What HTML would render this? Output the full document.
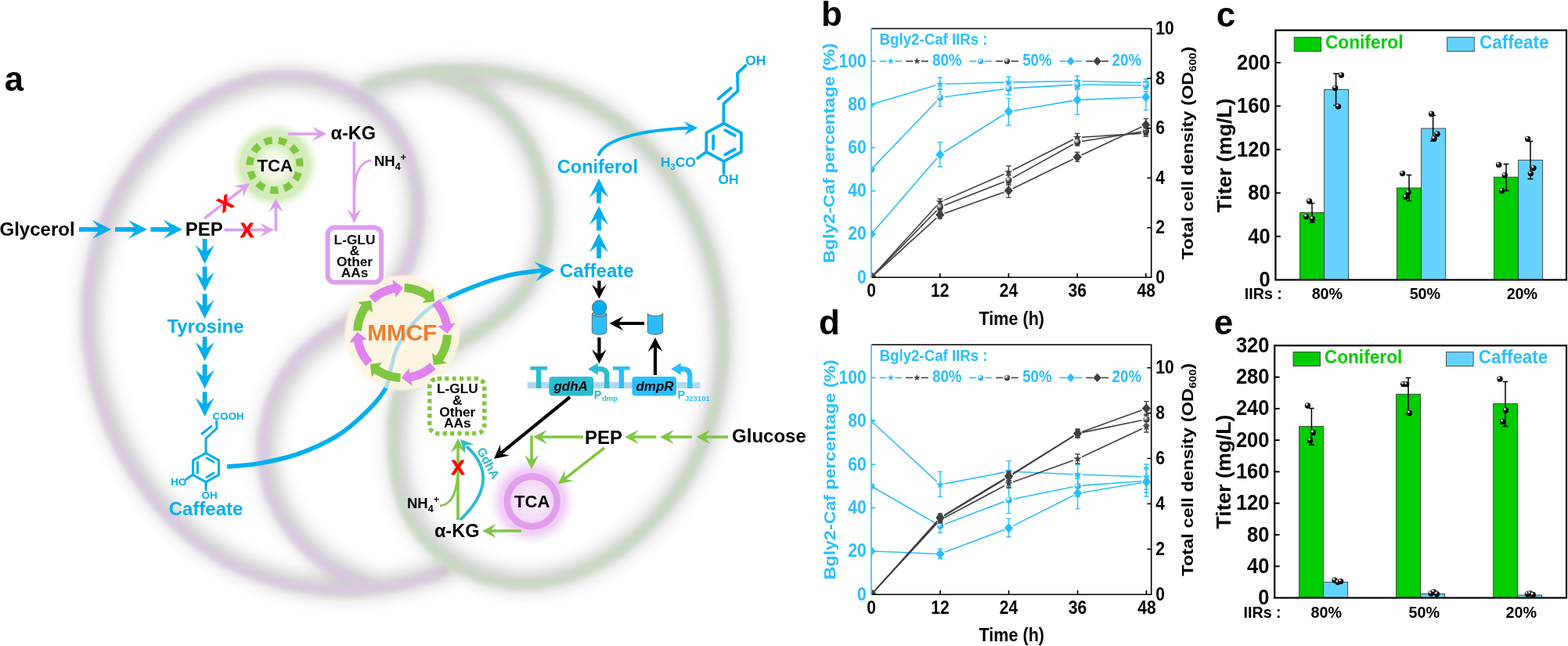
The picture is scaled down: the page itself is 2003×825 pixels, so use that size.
<!DOCTYPE html>
<html><head><meta charset="utf-8"><title>Figure</title>
<style>
html,body{margin:0;padding:0;background:#fff;}
body{width:2003px;height:825px;overflow:hidden;}
svg{display:block;}
text{font-family:'Liberation Sans', sans-serif;font-weight:bold;}
</style></head><body>
<svg width="2003" height="825" viewBox="0 0 2003 825">
<defs>
<filter id="blur6" x="-20%" y="-20%" width="140%" height="140%"><feGaussianBlur stdDeviation="10.5"/></filter>
<filter id="blur2" x="-20%" y="-20%" width="140%" height="140%"><feGaussianBlur stdDeviation="3"/></filter>
<filter id="blur3" x="-30%" y="-30%" width="160%" height="160%"><feGaussianBlur stdDeviation="3"/></filter>
<radialGradient id="mmcfg" cx="50%" cy="50%" r="50%"><stop offset="0" stop-color="#FDF5E1" stop-opacity="0.93"/><stop offset="0.955" stop-color="#FDF5E1" stop-opacity="0.93"/><stop offset="1" stop-color="#FDF5E0" stop-opacity="0"/></radialGradient>
<clipPath id="mmcfclip"><circle cx="514" cy="425" r="73"/></clipPath>
<radialGradient id="tcag" cx="50%" cy="50%" r="50%"><stop offset="0" stop-color="#fff" stop-opacity="1"/><stop offset="0.28" stop-color="#F1F9E8" stop-opacity="1"/><stop offset="0.5" stop-color="#D3EAB8" stop-opacity="1"/><stop offset="0.78" stop-color="#D2EAB8" stop-opacity="0.95"/><stop offset="1" stop-color="#DDF0CB" stop-opacity="0"/></radialGradient>
<radialGradient id="tcap" cx="50%" cy="50%" r="50%"><stop offset="0" stop-color="#FBF2FC" stop-opacity="1"/><stop offset="0.3" stop-color="#F5E2F8" stop-opacity="1"/><stop offset="0.55" stop-color="#F0D3F5" stop-opacity="1"/><stop offset="0.72" stop-color="#EFCDF5" stop-opacity="1"/><stop offset="1" stop-color="#F6E3F9" stop-opacity="0"/></radialGradient>
<radialGradient id="ballk" cx="35%" cy="30%" r="65%"><stop offset="0" stop-color="#ffffff"/><stop offset="0.18" stop-color="#d0d0d0"/><stop offset="0.42" stop-color="#1a1a1a"/><stop offset="1" stop-color="#000"/></radialGradient>
<radialGradient id="balld" cx="35%" cy="30%" r="65%"><stop offset="0" stop-color="#ffffff"/><stop offset="0.3" stop-color="#b0b0b0"/><stop offset="0.7" stop-color="#454545"/><stop offset="1" stop-color="#2a2a2a"/></radialGradient>
<radialGradient id="ballc" cx="35%" cy="30%" r="65%"><stop offset="0" stop-color="#ffffff"/><stop offset="0.3" stop-color="#a8e4ff"/><stop offset="0.7" stop-color="#29BFFF"/><stop offset="1" stop-color="#1aa8e8"/></radialGradient>
<clipPath id="clipL1113_36"><rect x="1113" y="30" width="400" height="330"/></clipPath>
<clipPath id="clipL1113_440"><rect x="1113" y="430" width="400" height="335"/></clipPath>
</defs>
<rect width="2003" height="825" fill="#fff"/>
<g id="rings">
<path d="M568.3,730.0 C566.2,730.4 559.9,731.4 555.7,732.4 C551.6,733.4 547.5,734.8 543.4,736.0 C539.4,737.1 535.3,738.3 531.2,739.4 C527.1,740.5 523.0,741.5 518.9,742.5 C514.8,743.4 510.6,744.3 506.5,745.1 C502.4,745.9 498.3,746.6 494.1,747.3 C490.0,747.9 485.8,748.5 481.7,749.0 C477.5,749.5 473.3,749.9 469.2,750.2 C465.0,750.6 460.8,750.8 456.7,751.0 C452.5,751.2 448.4,751.3 444.2,751.3 C440.0,751.3 435.9,751.3 431.7,751.2 C427.6,751.0 423.5,750.8 419.3,750.5 C415.2,750.2 411.1,749.9 407.0,749.4 C402.9,749.0 398.8,748.5 394.7,747.9 C390.6,747.3 386.6,746.6 382.5,745.8 C378.5,745.1 374.4,744.3 370.4,743.3 C366.4,742.4 362.5,741.4 358.5,740.4 C354.5,739.3 350.6,738.2 346.7,736.9 C342.8,735.7 338.9,734.4 335.1,733.0 C331.2,731.7 327.4,730.2 323.6,728.7 C319.8,727.1 316.1,725.5 312.3,723.8 C308.6,722.1 304.9,720.3 301.3,718.5 C297.6,716.6 294.0,714.7 290.5,712.7 C286.9,710.7 283.4,708.6 279.9,706.5 C276.4,704.3 272.9,702.1 269.5,699.7 C266.1,697.4 262.8,695.1 259.5,692.6 C256.1,690.1 252.9,687.6 249.6,685.0 C246.4,682.4 243.2,679.8 240.1,677.0 C237.0,674.3 233.9,671.5 230.8,668.6 C227.8,665.8 224.8,662.9 221.9,659.9 C218.9,656.9 216.0,653.9 213.2,650.8 C210.4,647.7 207.6,644.5 204.9,641.3 C202.1,638.1 199.4,634.8 196.8,631.5 C194.2,628.2 191.6,624.9 189.1,621.5 C186.6,618.1 184.2,614.6 181.8,611.1 C179.4,607.6 177.0,604.1 174.8,600.5 C172.5,596.9 170.3,593.3 168.1,589.6 C165.9,586.0 163.8,582.3 161.8,578.6 C159.8,574.9 157.8,571.1 155.9,567.3 C154.0,563.5 152.1,559.7 150.4,555.9 C148.6,552.0 146.9,548.2 145.2,544.3 C143.6,540.4 142.0,536.5 140.5,532.5 C138.9,528.6 137.5,524.6 136.1,520.7 C134.7,516.7 133.4,512.7 132.2,508.7 C130.9,504.7 129.8,500.7 128.7,496.7 C127.6,492.7 126.6,488.6 125.6,484.6 C124.6,480.6 123.8,476.5 122.9,472.5 C122.1,468.4 121.4,464.3 120.7,460.3 C120.0,456.2 119.4,452.1 118.9,448.1 C118.4,444.0 117.9,439.9 117.6,435.9 C117.2,431.8 116.9,427.7 116.6,423.6 C116.4,419.5 116.2,415.5 116.2,411.4 C116.1,407.3 116.1,403.2 116.1,399.2 C116.2,395.1 116.3,391.0 116.5,387.0 C116.7,382.9 117.0,378.8 117.4,374.8 C117.8,370.7 118.2,366.7 118.7,362.6 C119.2,358.6 119.8,354.6 120.5,350.6 C121.1,346.5 121.9,342.5 122.7,338.5 C123.5,334.5 124.4,330.5 125.4,326.6 C126.3,322.6 127.4,318.6 128.5,314.7 C129.6,310.7 130.8,306.8 132.1,302.9 C133.4,298.9 134.8,295.0 136.2,291.1 C137.6,287.2 139.2,283.4 140.8,279.5 C142.4,275.7 144.0,271.8 145.8,268.0 C147.5,264.2 149.4,260.4 151.3,256.6 C153.2,252.9 155.2,249.1 157.3,245.4 C159.3,241.7 161.5,238.0 163.7,234.3 C165.9,230.7 168.2,227.0 170.6,223.4 C173.0,219.9 175.4,216.3 177.9,212.8 C180.4,209.3 183.0,205.9 185.6,202.5 C188.3,199.1 191.0,195.7 193.8,192.4 C196.6,189.1 199.4,185.9 202.3,182.7 C205.2,179.6 208.2,176.4 211.2,173.4 C214.2,170.4 217.3,167.4 220.4,164.5 C223.5,161.6 226.7,158.8 229.9,156.0 C233.1,153.3 236.4,150.6 239.7,148.0 C243.1,145.4 246.4,142.9 249.8,140.5 C253.3,138.1 256.7,135.8 260.2,133.5 C263.7,131.3 267.2,129.2 270.8,127.1 C274.4,125.1 278.0,123.2 281.7,121.3 C285.3,119.5 289.0,117.8 292.7,116.2 C296.4,114.5 300.1,113.0 303.9,111.6 C307.7,110.3 311.5,109.0 315.3,107.8 C319.1,106.7 323.0,105.6 326.9,104.7 C330.7,103.8 334.6,103.0 338.5,102.3 C342.4,101.7 346.4,101.1 350.3,100.7 C354.3,100.4 358.3,100.1 362.3,100.0 C366.2,99.9 370.3,99.9 374.3,100.0 C378.3,100.2 382.3,100.5 386.4,101.0 C390.4,101.4 394.4,102.0 398.4,102.8 C402.4,103.5 406.4,104.4 410.4,105.4 C414.4,106.4 418.3,107.6 422.2,108.8 C426.1,110.1 430.0,111.6 433.8,113.1 C437.6,114.7 441.4,116.4 445.1,118.2 C448.8,120.0 452.4,122.0 455.9,124.0 C459.5,126.1 463.0,128.3 466.3,130.6 C469.7,133.0 473.0,135.4 476.1,138.0 C479.3,140.6 482.4,143.2 485.3,146.1 C488.3,148.9 491.1,151.8 493.8,154.8 C496.5,157.9 499.1,161.1 501.5,164.3 C504.0,167.6 506.3,171.0 508.4,174.5 C510.6,178.0 512.6,181.6 514.4,185.3 C516.3,189.0 518.0,192.8 519.6,196.7 C521.2,200.5 522.6,204.5 523.9,208.5 C525.2,212.5 526.4,216.5 527.4,220.6 C528.4,224.7 529.3,228.9 530.1,233.1 C530.8,237.3 531.4,241.5 531.9,245.7 C532.4,249.9 532.7,254.2 532.9,258.4 C533.1,262.6 533.2,266.9 533.2,271.1 C533.1,275.3 532.9,279.5 532.6,283.7 C532.3,287.8 531.8,292.0 531.2,296.1 C530.6,300.2 529.9,304.2 529.0,308.2 C528.1,312.2 527.1,316.1 526.0,320.0 C524.8,323.9 523.5,327.7 522.1,331.4 C520.6,335.1 519.0,338.7 517.2,342.3 C515.5,345.9 513.6,349.3 511.5,352.7 C509.4,356.1 507.2,359.4 504.7,362.5 C502.3,365.7 499.7,368.8 497.0,371.7 C494.2,374.7 491.3,377.5 488.3,380.3 C485.2,383.0 482.0,385.6 478.8,388.2 C475.5,390.7 472.0,393.1 468.6,395.5 C465.1,397.9 461.5,400.1 458.0,402.5 C454.5,404.9 451.0,407.2 447.5,409.8 C444.1,412.4 441.0,415.3 437.6,417.9 C434.2,420.5 430.8,423.0 427.3,425.4 C423.9,427.8 420.3,429.9 416.8,432.2 C413.4,434.5 410.0,436.8 406.7,439.3 C403.5,441.8 400.3,444.4 397.2,447.1 C394.2,449.8 391.3,452.7 388.4,455.6 C385.6,458.6 382.9,461.6 380.3,464.8 C377.7,467.9 375.3,471.2 372.9,474.5 C370.6,477.9 368.3,481.3 366.2,484.8 C364.1,488.3 362.1,491.9 360.3,495.5 C358.4,499.2 356.7,502.9 355.1,506.7 C353.5,510.5 352.0,514.3 350.7,518.2 C349.3,522.1 348.1,526.0 347.0,530.0 C346.0,534.0 345.0,538.0 344.3,542.0 C343.5,546.0 342.8,550.1 342.3,554.1 C341.8,558.2 341.4,562.3 341.2,566.4 C341.0,570.4 340.9,574.5 341.0,578.6 C341.1,582.7 341.3,586.7 341.7,590.8 C342.1,594.8 342.6,598.9 343.3,602.9 C344.0,606.8 344.8,610.8 345.8,614.8 C346.8,618.7 348.0,622.6 349.3,626.4 C350.6,630.3 352.1,634.1 353.7,637.8 C355.3,641.6 357.0,645.3 358.9,648.9 C360.8,652.6 362.8,656.2 364.9,659.7 C367.1,663.2 369.3,666.7 371.7,670.0 C374.1,673.4 376.6,676.7 379.2,680.0 C381.8,683.2 384.5,686.4 387.4,689.4 C390.2,692.5 393.1,695.5 396.1,698.4 C399.1,701.3 402.2,704.1 405.4,706.8 C408.6,709.5 411.9,712.1 415.2,714.6 C418.5,717.1 422.0,719.5 425.4,721.7 C428.9,724.0 432.5,726.2 436.1,728.2 C439.7,730.3 443.4,732.2 447.1,734.0 C450.9,735.8 454.7,737.5 458.5,739.1 C462.3,740.7 466.2,741.8 469.9,743.6 C473.6,745.4 478.8,748.8 480.6,749.8" fill="none" stroke="#7d7d7d" stroke-width="22" stroke-linecap="round" stroke-linejoin="round" opacity="0.42" filter="url(#blur6)"/>
<path d="M565.8,730.0 C563.8,730.8 557.8,733.1 553.8,734.5 C549.8,735.9 545.7,737.3 541.7,738.6 C537.6,739.8 533.5,741.0 529.4,742.1 C525.3,743.3 521.1,744.3 517.0,745.3 C512.9,746.2 508.7,747.1 504.6,747.9 C500.4,748.7 496.2,749.4 492.0,750.1 C487.9,750.8 483.7,751.3 479.5,751.8 C475.3,752.3 471.1,752.7 466.9,753.1 C462.7,753.4 458.5,753.7 454.3,753.9 C450.1,754.1 445.9,754.2 441.7,754.2 C437.5,754.2 433.3,754.2 429.2,754.0 C425.0,753.9 420.8,753.7 416.6,753.4 C412.5,753.1 408.3,752.8 404.2,752.3 C400.0,751.9 395.9,751.4 391.8,750.8 C387.7,750.2 383.6,749.5 379.5,748.7 C375.4,748.0 371.3,747.2 367.3,746.2 C363.2,745.3 359.2,744.3 355.2,743.3 C351.2,742.2 347.3,741.0 343.3,739.8 C339.4,738.6 335.4,737.3 331.5,735.9 C327.7,734.5 323.8,733.0 320.0,731.5 C316.1,729.9 312.3,728.3 308.6,726.6 C304.8,724.9 301.1,723.1 297.4,721.2 C293.7,719.4 290.1,717.4 286.5,715.4 C282.9,713.3 279.3,711.2 275.8,709.1 C272.2,706.9 268.8,704.6 265.3,702.3 C261.9,699.9 258.5,697.5 255.2,695.0 C251.8,692.5 248.5,690.0 245.3,687.3 C242.0,684.7 238.8,682.0 235.7,679.2 C232.5,676.5 229.4,673.6 226.3,670.7 C223.3,667.8 220.3,664.9 217.3,661.9 C214.4,658.9 211.5,655.8 208.6,652.7 C205.8,649.5 203.0,646.3 200.2,643.1 C197.5,639.9 194.8,636.6 192.2,633.2 C189.5,629.9 186.9,626.5 184.4,623.1 C181.9,619.6 179.4,616.2 177.0,612.6 C174.6,609.1 172.3,605.6 170.0,601.9 C167.7,598.3 165.5,594.7 163.3,591.0 C161.1,587.3 159.0,583.6 157.0,579.9 C154.9,576.1 152.9,572.3 151.0,568.5 C149.1,564.7 147.2,560.9 145.4,557.0 C143.6,553.1 141.9,549.2 140.2,545.3 C138.6,541.4 137.0,537.5 135.4,533.5 C133.9,529.5 132.5,525.6 131.1,521.6 C129.7,517.6 128.3,513.6 127.1,509.5 C125.8,505.5 124.6,501.5 123.5,497.4 C122.4,493.4 121.4,489.3 120.4,485.2 C119.4,481.2 118.5,477.1 117.7,473.0 C116.9,468.9 116.1,464.8 115.4,460.7 C114.8,456.6 114.2,452.5 113.6,448.4 C113.1,444.3 112.6,440.2 112.2,436.1 C111.9,432.0 111.5,427.9 111.3,423.8 C111.1,419.7 110.9,415.6 110.8,411.4 C110.7,407.3 110.7,403.2 110.7,399.1 C110.8,395.0 110.9,390.9 111.2,386.8 C111.4,382.7 111.6,378.6 112.0,374.5 C112.4,370.4 112.8,366.4 113.3,362.3 C113.8,358.2 114.4,354.1 115.1,350.1 C115.8,346.0 116.5,342.0 117.3,337.9 C118.2,333.9 119.1,329.9 120.0,325.9 C121.0,321.8 122.1,317.8 123.2,313.9 C124.3,309.9 125.6,305.9 126.9,301.9 C128.1,298.0 129.5,294.0 131.0,290.1 C132.4,286.2 134.0,282.3 135.6,278.4 C137.2,274.5 138.9,270.6 140.6,266.8 C142.4,263.0 144.3,259.1 146.2,255.3 C148.1,251.5 150.2,247.7 152.2,244.0 C154.3,240.2 156.5,236.5 158.8,232.8 C161.0,229.1 163.3,225.5 165.7,221.9 C168.1,218.3 170.6,214.7 173.1,211.2 C175.6,207.6 178.2,204.1 180.9,200.7 C183.5,197.3 186.3,193.9 189.1,190.6 C191.9,187.2 194.7,184.0 197.6,180.8 C200.6,177.6 203.5,174.4 206.6,171.3 C209.6,168.2 212.7,165.2 215.8,162.3 C219.0,159.4 222.2,156.5 225.4,153.7 C228.7,150.9 232.0,148.2 235.3,145.6 C238.7,142.9 242.1,140.4 245.5,137.9 C249.0,135.5 252.5,133.1 256.0,130.9 C259.5,128.6 263.1,126.4 266.7,124.3 C270.3,122.3 274.0,120.3 277.7,118.4 C281.4,116.5 285.1,114.8 288.9,113.1 C292.6,111.5 296.4,109.9 300.3,108.5 C304.1,107.1 308.0,105.8 311.8,104.6 C315.7,103.4 319.6,102.3 323.6,101.4 C327.5,100.5 331.5,99.6 335.5,99.0 C339.5,98.3 343.5,97.7 347.5,97.3 C351.6,96.9 355.6,96.7 359.7,96.6 C363.7,96.4 367.8,96.5 371.9,96.6 C376.0,96.8 380.1,97.1 384.2,97.6 C388.3,98.0 392.5,98.6 396.5,99.4 C400.6,100.2 404.7,101.0 408.8,102.1 C412.8,103.1 416.8,104.3 420.8,105.6 C424.8,106.9 428.7,108.4 432.6,110.0 C436.5,111.5 440.3,113.3 444.1,115.1 C447.9,117.0 451.6,119.0 455.2,121.1 C458.8,123.2 462.4,125.4 465.8,127.8 C469.2,130.2 472.6,132.7 475.8,135.3 C479.1,137.9 482.2,140.7 485.2,143.6 C488.3,146.4 491.2,149.4 493.9,152.6 C496.7,155.7 499.3,158.9 501.8,162.3 C504.3,165.6 506.7,169.1 508.9,172.7 C511.1,176.3 513.1,180.0 515.0,183.7 C516.9,187.5 518.7,191.4 520.3,195.3 C521.9,199.3 523.3,203.3 524.7,207.4 C526.0,211.5 527.2,215.6 528.2,219.8 C529.2,224.0 530.1,228.2 530.9,232.5 C531.7,236.7 532.3,241.0 532.8,245.3 C533.2,249.6 533.6,253.9 533.8,258.2 C534.0,262.5 534.1,266.9 534.0,271.1 C534.0,275.4 533.8,279.7 533.5,284.0 C533.1,288.2 532.7,292.4 532.1,296.6 C531.5,300.8 530.8,304.9 529.9,309.0 C529.0,313.0 528.0,317.1 526.8,321.0 C525.6,325.0 524.3,328.9 522.8,332.7 C521.3,336.5 519.6,340.2 517.8,343.9 C516.0,347.5 514.1,351.1 511.9,354.6 C509.8,358.0 507.5,361.4 505.0,364.6 C502.5,367.9 499.9,371.0 497.1,374.1 C494.3,377.1 491.3,380.0 488.2,382.8 C485.0,385.6 481.8,388.3 478.4,390.8 C475.1,393.4 471.6,395.9 468.0,398.2 C464.5,400.6 460.8,402.8 457.1,404.9 C453.4,407.1 449.6,409.1 445.9,411.1 C442.1,413.1 438.3,415.0 434.5,417.0 C430.8,419.0 427.0,421.0 423.3,423.1 C419.6,425.1 416.0,427.2 412.4,429.5 C408.9,431.7 405.4,434.1 402.1,436.6 C398.8,439.1 395.6,441.8 392.5,444.6 C389.3,447.3 386.3,450.2 383.5,453.2 C380.6,456.2 377.8,459.4 375.2,462.6 C372.5,465.8 370.0,469.1 367.6,472.5 C365.2,475.9 362.9,479.4 360.8,483.0 C358.6,486.6 356.6,490.3 354.7,494.0 C352.8,497.7 351.1,501.5 349.4,505.4 C347.8,509.2 346.3,513.1 344.9,517.1 C343.6,521.1 342.3,525.1 341.2,529.1 C340.2,533.2 339.2,537.2 338.4,541.3 C337.6,545.4 336.9,549.6 336.4,553.7 C335.9,557.9 335.5,562.0 335.3,566.2 C335.1,570.3 335.0,574.5 335.1,578.7 C335.2,582.8 335.4,587.0 335.8,591.1 C336.2,595.2 336.7,599.4 337.4,603.4 C338.1,607.5 339.0,611.6 340.0,615.6 C341.0,619.6 342.2,623.6 343.5,627.5 C344.9,631.4 346.4,635.3 348.0,639.2 C349.6,643.0 351.4,646.8 353.3,650.5 C355.3,654.2 357.3,657.8 359.5,661.4 C361.7,665.0 364.0,668.5 366.4,672.0 C368.9,675.4 371.4,678.8 374.1,682.1 C376.7,685.4 379.5,688.6 382.4,691.7 C385.2,694.8 388.2,697.9 391.3,700.8 C394.3,703.7 397.5,706.6 400.7,709.3 C404.0,712.1 407.3,714.7 410.7,717.3 C414.1,719.8 417.6,722.2 421.1,724.5 C424.6,726.9 428.3,729.1 431.9,731.1 C435.6,733.2 439.3,735.2 443.1,737.0 C446.8,738.8 450.7,740.5 454.5,742.1 C458.4,743.7 462.3,745.1 466.2,746.4 C470.1,747.7 476.1,749.3 478.1,749.8" fill="none" stroke="#D9C8E0" stroke-width="12" stroke-linecap="round" stroke-linejoin="round" opacity="0.9" filter="url(#blur2)"/>
<path d="M472.1,109.0 C474.1,108.7 480.3,108.0 484.3,107.2 C488.4,106.4 492.3,105.1 496.2,104.1 C500.2,103.0 504.2,102.0 508.2,101.0 C512.3,100.1 516.3,99.2 520.4,98.4 C524.4,97.6 528.5,96.8 532.6,96.2 C536.7,95.5 540.8,94.9 545.0,94.4 C549.1,93.9 553.3,93.5 557.4,93.1 C561.6,92.8 565.8,92.5 570.0,92.3 C574.1,92.1 578.4,91.9 582.6,91.9 C586.8,91.8 591.0,91.9 595.2,92.0 C599.4,92.1 603.6,92.3 607.9,92.5 C612.1,92.8 616.3,93.1 620.5,93.5 C624.7,93.9 628.9,94.4 633.1,94.9 C637.3,95.5 641.5,96.1 645.7,96.8 C649.9,97.5 654.0,98.3 658.2,99.2 C662.3,100.0 666.5,101.0 670.6,102.0 C674.7,103.0 678.8,104.0 682.9,105.2 C687.0,106.3 691.0,107.6 695.0,108.8 C699.1,110.1 703.1,111.5 707.0,113.0 C711.0,114.4 714.9,115.9 718.8,117.5 C722.7,119.1 726.6,120.7 730.5,122.5 C734.3,124.2 738.1,126.0 741.8,127.9 C745.6,129.7 749.3,131.7 753.0,133.7 C756.6,135.7 760.3,137.8 763.8,139.9 C767.4,142.1 770.9,144.3 774.4,146.6 C777.9,148.9 781.3,151.2 784.7,153.7 C788.1,156.1 791.4,158.6 794.7,161.2 C797.9,163.7 801.1,166.3 804.3,169.0 C807.4,171.7 810.5,174.5 813.6,177.3 C816.6,180.1 819.6,183.0 822.5,185.9 C825.5,188.9 828.3,191.9 831.1,194.9 C834.0,198.0 836.7,201.1 839.4,204.3 C842.1,207.4 844.7,210.7 847.3,213.9 C849.9,217.2 852.4,220.5 854.8,223.9 C857.3,227.3 859.7,230.7 862.0,234.1 C864.3,237.6 866.6,241.1 868.8,244.7 C871.0,248.2 873.2,251.8 875.2,255.5 C877.3,259.1 879.3,262.8 881.3,266.5 C883.2,270.2 885.1,273.9 886.9,277.7 C888.8,281.5 890.5,285.3 892.2,289.1 C893.9,293.0 895.5,296.8 897.1,300.7 C898.6,304.6 900.1,308.6 901.5,312.5 C903.0,316.5 904.3,320.5 905.6,324.5 C906.9,328.5 908.1,332.5 909.3,336.5 C910.4,340.5 911.5,344.6 912.5,348.7 C913.5,352.8 914.5,356.8 915.3,360.9 C916.2,365.0 917.0,369.2 917.7,373.3 C918.4,377.4 919.1,381.5 919.7,385.7 C920.3,389.8 920.8,394.0 921.2,398.1 C921.7,402.3 922.1,406.4 922.4,410.6 C922.7,414.7 922.9,418.9 923.0,423.1 C923.2,427.2 923.3,431.4 923.3,435.6 C923.3,439.7 923.2,443.9 923.1,448.0 C923.0,452.2 922.8,456.4 922.5,460.5 C922.2,464.6 921.8,468.8 921.4,472.9 C921.0,477.0 920.5,481.2 919.9,485.3 C919.3,489.4 918.7,493.5 917.9,497.6 C917.2,501.6 916.4,505.7 915.5,509.8 C914.6,513.8 913.7,517.9 912.7,521.9 C911.6,525.9 910.5,529.9 909.3,533.9 C908.2,537.9 906.9,541.8 905.6,545.8 C904.2,549.7 902.8,553.6 901.4,557.5 C899.9,561.4 898.3,565.3 896.7,569.1 C895.0,572.9 893.3,576.7 891.5,580.5 C889.7,584.3 887.9,588.1 885.9,591.8 C884.0,595.5 881.9,599.2 879.8,602.8 C877.7,606.5 875.6,610.1 873.3,613.7 C871.0,617.3 868.7,620.8 866.3,624.3 C863.9,627.8 861.4,631.3 858.8,634.7 C856.2,638.1 853.6,641.5 850.9,644.9 C848.1,648.2 845.3,651.5 842.5,654.7 C839.6,657.9 836.7,661.1 833.7,664.2 C830.7,667.3 827.6,670.3 824.5,673.3 C821.4,676.3 818.2,679.2 815.0,682.0 C811.7,684.8 808.4,687.6 805.1,690.3 C801.7,692.9 798.3,695.5 794.9,698.0 C791.4,700.6 788.0,703.0 784.4,705.3 C780.9,707.6 777.3,709.9 773.7,712.0 C770.1,714.2 766.4,716.2 762.7,718.2 C759.1,720.1 755.3,722.0 751.6,723.7 C747.8,725.4 744.1,727.1 740.2,728.6 C736.4,730.1 732.6,731.5 728.8,732.8 C724.9,734.1 721.0,735.3 717.2,736.3 C713.3,737.3 709.4,738.3 705.4,739.1 C701.5,739.9 697.6,740.5 693.6,741.1 C689.7,741.6 685.7,742.0 681.8,742.3 C677.8,742.5 673.9,742.6 669.9,742.6 C665.9,742.6 662.0,742.4 658.0,742.1 C654.0,741.8 650.1,741.3 646.1,740.7 C642.1,740.0 638.2,739.3 634.2,738.3 C630.3,737.4 626.3,736.3 622.4,735.0 C618.4,733.7 614.5,732.3 610.7,730.7 C606.8,729.1 602.9,727.4 599.2,725.6 C595.4,723.7 591.7,721.7 588.0,719.5 C584.4,717.4 580.8,715.1 577.3,712.7 C573.8,710.3 570.4,707.8 567.1,705.2 C563.8,702.6 560.6,699.8 557.5,697.0 C554.5,694.1 551.5,691.1 548.7,688.1 C545.9,685.0 543.2,681.9 540.7,678.6 C538.2,675.4 535.8,672.1 533.6,668.7 C531.4,665.2 529.4,661.7 527.5,658.2 C525.6,654.6 523.9,651.0 522.4,647.3 C520.8,643.5 519.4,639.8 518.1,635.9 C516.9,632.1 515.7,628.1 514.7,624.2 C513.7,620.2 512.8,616.1 512.0,612.0 C511.2,607.9 510.5,603.8 509.9,599.6 C509.3,595.4 508.8,591.1 508.4,586.8 C507.9,582.5 507.6,578.1 507.4,573.8 C507.2,569.4 507.1,565.0 507.1,560.5 C507.1,556.1 507.1,551.7 507.3,547.3 C507.5,542.9 507.8,538.5 508.2,534.3 C508.7,530.0 509.2,525.8 509.9,521.7 C510.7,517.6 511.5,513.6 512.6,509.7 C513.7,505.9 515.0,502.2 516.5,498.7 C518.0,495.1 519.7,491.8 521.7,488.6 C523.7,485.4 526.0,482.5 528.5,479.7 C531.0,476.9 533.7,474.3 536.6,471.9 C539.6,469.4 542.7,467.1 546.0,464.8 C549.2,462.5 552.7,460.4 556.2,458.2 C559.7,456.1 563.4,454.0 566.9,451.6 C570.5,449.3 574.0,446.8 577.6,444.2 C581.1,441.7 584.6,439.0 588.3,436.6 C591.9,434.1 595.6,431.8 599.2,429.4 C602.9,427.1 606.6,424.9 610.2,422.5 C613.8,420.2 617.4,417.9 620.8,415.6 C624.3,413.2 627.8,410.8 631.1,408.3 C634.4,405.8 637.7,403.2 640.8,400.6 C644.0,398.0 647.0,395.3 650.0,392.5 C652.9,389.7 655.8,386.9 658.5,383.9 C661.2,381.0 663.8,378.0 666.3,374.9 C668.8,371.8 671.1,368.7 673.4,365.4 C675.6,362.1 677.7,358.8 679.6,355.4 C681.6,351.9 683.4,348.4 685.0,344.7 C686.7,341.1 688.2,337.4 689.5,333.5 C690.8,329.7 692.0,325.8 693.0,321.8 C694.1,317.8 694.9,313.7 695.7,309.6 C696.4,305.5 697.0,301.3 697.4,297.1 C697.9,292.9 698.1,288.6 698.3,284.3 C698.4,280.1 698.4,275.7 698.3,271.4 C698.1,267.1 697.8,262.8 697.4,258.5 C696.9,254.3 696.4,250.0 695.7,245.7 C695.0,241.5 694.1,237.3 693.1,233.1 C692.1,229.0 691.0,224.9 689.8,220.8 C688.6,216.8 687.2,212.8 685.7,208.9 C684.2,205.0 682.6,201.1 680.8,197.4 C679.1,193.6 677.2,189.9 675.3,186.3 C673.3,182.7 671.2,179.1 669.0,175.6 C666.8,172.2 664.5,168.8 662.1,165.5 C659.7,162.2 657.1,159.0 654.5,155.9 C651.9,152.8 649.1,149.8 646.3,146.9 C643.5,144.0 640.5,141.1 637.5,138.4 C634.5,135.7 631.3,133.1 628.1,130.6 C624.9,128.1 621.6,125.8 618.2,123.5 C614.8,121.2 611.3,119.1 607.8,117.0 C604.2,115.0 600.6,113.1 596.8,111.3 C593.1,109.6 589.2,107.9 585.3,106.3 C581.4,104.8 577.4,103.4 573.3,102.1 C569.3,100.8 565.0,100.1 561.0,98.6 C556.9,97.1 551.0,94.0 549.0,93.1" fill="none" stroke="#7d7d7d" stroke-width="22" stroke-linecap="round" stroke-linejoin="round" opacity="0.42" filter="url(#blur6)"/>
<path d="M469.6,109.0 C471.5,108.3 477.3,106.2 481.2,104.9 C485.1,103.6 489.1,102.4 493.1,101.3 C497.1,100.2 501.1,99.1 505.1,98.2 C509.1,97.2 513.2,96.3 517.3,95.5 C521.4,94.7 525.5,93.9 529.7,93.3 C533.8,92.6 537.9,92.0 542.1,91.5 C546.3,91.0 550.5,90.6 554.7,90.3 C558.9,89.9 563.1,89.6 567.3,89.4 C571.6,89.2 575.8,89.1 580.0,89.1 C584.3,89.0 588.5,89.1 592.8,89.2 C597.0,89.3 601.3,89.5 605.5,89.7 C609.8,90.0 614.0,90.3 618.3,90.7 C622.5,91.1 626.8,91.6 631.0,92.2 C635.2,92.7 639.4,93.4 643.7,94.1 C647.9,94.8 652.1,95.6 656.3,96.4 C660.4,97.3 664.6,98.2 668.8,99.2 C672.9,100.2 677.0,101.3 681.2,102.5 C685.3,103.6 689.3,104.9 693.4,106.2 C697.5,107.5 701.5,108.8 705.5,110.3 C709.5,111.7 713.5,113.2 717.4,114.8 C721.4,116.4 725.3,118.1 729.1,119.8 C733.0,121.6 736.8,123.4 740.6,125.2 C744.4,127.1 748.2,129.1 751.9,131.1 C755.6,133.1 759.3,135.2 762.9,137.4 C766.5,139.5 770.1,141.8 773.6,144.1 C777.1,146.4 780.6,148.8 784.0,151.2 C787.4,153.7 790.7,156.2 794.0,158.8 C797.3,161.4 800.6,164.0 803.7,166.8 C806.9,169.5 810.1,172.3 813.1,175.1 C816.2,178.0 819.2,180.9 822.1,183.9 C825.1,186.8 828.0,189.9 830.8,192.9 C833.6,196.0 836.4,199.2 839.1,202.4 C841.8,205.6 844.5,208.8 847.1,212.1 C849.7,215.4 852.2,218.8 854.7,222.2 C857.1,225.6 859.5,229.1 861.9,232.6 C864.2,236.1 866.5,239.6 868.7,243.2 C870.9,246.8 873.1,250.4 875.2,254.1 C877.3,257.7 879.3,261.4 881.3,265.2 C883.2,268.9 885.1,272.7 886.9,276.5 C888.8,280.3 890.5,284.1 892.2,288.0 C893.9,291.9 895.6,295.8 897.1,299.7 C898.7,303.7 900.2,307.6 901.6,311.6 C903.1,315.6 904.4,319.6 905.7,323.6 C907.0,327.6 908.2,331.7 909.4,335.8 C910.5,339.8 911.6,343.9 912.7,348.0 C913.7,352.1 914.6,356.2 915.5,360.4 C916.4,364.5 917.2,368.6 917.9,372.8 C918.7,377.0 919.3,381.1 919.9,385.3 C920.5,389.5 921.0,393.6 921.5,397.8 C921.9,402.0 922.3,406.2 922.6,410.4 C922.9,414.6 923.2,418.8 923.3,423.0 C923.5,427.2 923.6,431.4 923.6,435.6 C923.6,439.8 923.5,444.0 923.4,448.1 C923.3,452.3 923.1,456.5 922.8,460.7 C922.5,464.9 922.1,469.0 921.7,473.2 C921.3,477.4 920.8,481.5 920.2,485.7 C919.6,489.8 919.0,493.9 918.2,498.1 C917.5,502.2 916.7,506.3 915.8,510.4 C914.9,514.5 914.0,518.5 913.0,522.6 C911.9,526.7 910.8,530.7 909.6,534.7 C908.4,538.7 907.2,542.7 905.8,546.7 C904.5,550.7 903.1,554.6 901.6,558.6 C900.1,562.5 898.5,566.4 896.9,570.3 C895.2,574.1 893.5,578.0 891.7,581.8 C889.9,585.6 888.0,589.4 886.0,593.1 C884.1,596.9 882.0,600.6 879.9,604.3 C877.8,608.0 875.6,611.7 873.3,615.3 C871.0,618.9 868.7,622.5 866.2,626.0 C863.8,629.5 861.3,633.0 858.7,636.5 C856.1,640.0 853.4,643.4 850.6,646.7 C847.9,650.1 845.1,653.4 842.2,656.7 C839.3,659.9 836.3,663.1 833.3,666.2 C830.3,669.4 827.2,672.5 824.1,675.5 C820.9,678.5 817.7,681.4 814.4,684.3 C811.2,687.1 807.9,689.9 804.5,692.6 C801.1,695.4 797.7,698.0 794.2,700.5 C790.7,703.1 787.2,705.6 783.6,707.9 C780.1,710.3 776.5,712.6 772.8,714.8 C769.2,716.9 765.5,719.0 761.7,721.0 C758.0,723.0 754.2,724.9 750.5,726.7 C746.7,728.4 742.8,730.1 739.0,731.7 C735.1,733.2 731.2,734.7 727.3,736.0 C723.4,737.3 719.5,738.5 715.5,739.6 C711.6,740.6 707.6,741.6 703.6,742.4 C699.6,743.2 695.6,743.9 691.6,744.4 C687.6,745.0 683.5,745.4 679.5,745.7 C675.5,745.9 671.4,746.1 667.4,746.0 C663.3,746.0 659.2,745.9 655.2,745.5 C651.1,745.2 647.1,744.7 643.0,744.1 C639.0,743.4 634.9,742.6 630.9,741.7 C626.9,740.7 622.8,739.6 618.8,738.3 C614.8,737.0 610.8,735.5 606.9,733.9 C602.9,732.3 599.0,730.5 595.2,728.6 C591.3,726.7 587.5,724.7 583.8,722.5 C580.1,720.3 576.4,718.0 572.8,715.6 C569.3,713.1 565.8,710.5 562.4,707.9 C559.1,705.2 555.8,702.4 552.7,699.5 C549.5,696.6 546.5,693.5 543.6,690.4 C540.8,687.3 538.0,684.1 535.4,680.7 C532.9,677.4 530.4,674.0 528.2,670.5 C525.9,667.0 523.9,663.5 521.9,659.8 C520.0,656.2 518.3,652.4 516.7,648.6 C515.1,644.8 513.7,641.0 512.4,637.0 C511.1,633.1 510.0,629.1 508.9,625.1 C507.9,621.0 507.0,616.9 506.2,612.7 C505.4,608.5 504.8,604.3 504.2,600.0 C503.6,595.8 503.2,591.5 502.8,587.1 C502.4,582.7 502.1,578.3 501.9,573.9 C501.7,569.5 501.5,565.0 501.4,560.5 C501.4,556.1 501.4,551.5 501.5,547.1 C501.7,542.6 501.9,538.2 502.3,533.8 C502.7,529.5 503.3,525.1 504.0,520.9 C504.8,516.7 505.7,512.6 506.8,508.6 C507.9,504.7 509.2,500.8 510.8,497.2 C512.4,493.5 514.2,490.0 516.3,486.7 C518.3,483.4 520.7,480.4 523.3,477.5 C525.9,474.6 528.7,471.9 531.7,469.3 C534.7,466.8 538.0,464.4 541.3,462.1 C544.7,459.8 548.2,457.6 551.8,455.5 C555.5,453.4 559.2,451.3 563.0,449.3 C566.8,447.3 570.7,445.4 574.6,443.4 C578.5,441.4 582.4,439.5 586.3,437.5 C590.2,435.5 594.1,433.5 597.9,431.4 C601.7,429.3 605.5,427.2 609.2,425.0 C612.9,422.8 616.5,420.5 620.1,418.1 C623.7,415.8 627.1,413.4 630.5,410.9 C633.9,408.4 637.3,405.8 640.5,403.1 C643.7,400.5 646.8,397.7 649.8,394.9 C652.8,392.1 655.7,389.2 658.5,386.3 C661.3,383.3 664.0,380.2 666.5,377.1 C669.0,373.9 671.5,370.7 673.7,367.3 C676.0,364.0 678.2,360.6 680.2,357.0 C682.1,353.5 684.0,349.9 685.7,346.2 C687.4,342.4 688.9,338.6 690.3,334.7 C691.6,330.8 692.8,326.8 693.9,322.7 C694.9,318.6 695.8,314.4 696.6,310.2 C697.3,306.0 697.9,301.8 698.3,297.5 C698.8,293.2 699.0,288.8 699.2,284.5 C699.3,280.1 699.3,275.7 699.1,271.3 C699.0,267.0 698.7,262.6 698.2,258.2 C697.8,253.8 697.2,249.5 696.5,245.2 C695.8,240.9 694.9,236.6 693.9,232.4 C692.9,228.1 691.8,224.0 690.5,219.8 C689.3,215.7 687.9,211.7 686.4,207.7 C684.8,203.7 683.2,199.8 681.4,196.0 C679.7,192.1 677.8,188.3 675.8,184.7 C673.8,181.0 671.6,177.3 669.4,173.8 C667.1,170.3 664.8,166.8 662.3,163.5 C659.9,160.1 657.3,156.9 654.6,153.7 C651.9,150.5 649.1,147.5 646.2,144.5 C643.4,141.5 640.4,138.6 637.3,135.9 C634.2,133.1 631.0,130.5 627.7,127.9 C624.4,125.4 621.1,122.9 617.6,120.6 C614.1,118.3 610.6,116.1 607.0,114.1 C603.3,112.0 599.6,110.1 595.8,108.2 C592.0,106.4 588.1,104.7 584.1,103.2 C580.2,101.7 576.1,100.2 572.0,99.0 C567.9,97.7 563.7,96.6 559.5,95.6 C555.2,94.6 548.7,93.5 546.5,93.1" fill="none" stroke="#CAD8C3" stroke-width="12" stroke-linecap="round" stroke-linejoin="round" opacity="0.9" filter="url(#blur2)"/>
</g>
<path d="M290.0,596.0 C296.7,595.3 315.0,594.7 330.0,592.0 C345.0,589.3 363.3,585.8 380.0,580.0 C396.7,574.2 415.5,565.8 430.0,557.0 C444.5,548.2 456.7,537.0 467.0,527.0 C477.3,517.0 486.5,506.8 492.0,497.0 C497.5,487.2 497.5,476.7 500.0,468.0 C502.5,459.3 503.3,453.0 507.0,445.0 C510.7,437.0 515.2,428.5 522.0,420.0 C528.8,411.5 539.6,400.7 548.0,394.0 C556.4,387.3 561.3,385.3 572.5,380.0 C583.7,374.7 601.7,367.2 615.0,362.4 C628.3,357.6 639.2,353.9 652.4,351.0 C665.6,348.1 687.1,346.2 694.0,345.3" fill="none" stroke="#00AEEF" stroke-width="5.6"/>
<polygon points="708.60,345.00 682.78,334.17 693.64,346.05 684.54,359.31" fill="#00AEEF"/>
<circle cx="514" cy="425" r="75" fill="url(#mmcfg)"/>
<path d="M290.0,596.0 C296.7,595.3 315.0,594.7 330.0,592.0 C345.0,589.3 363.3,585.8 380.0,580.0 C396.7,574.2 415.5,565.8 430.0,557.0 C444.5,548.2 456.7,537.0 467.0,527.0 C477.3,517.0 486.5,506.8 492.0,497.0 C497.5,487.2 497.5,476.7 500.0,468.0 C502.5,459.3 503.3,453.0 507.0,445.0 C510.7,437.0 515.2,428.5 522.0,420.0 C528.8,411.5 539.6,400.7 548.0,394.0 C556.4,387.3 561.3,385.3 572.5,380.0 C583.7,374.7 601.7,367.2 615.0,362.4 C628.3,357.6 639.2,353.9 652.4,351.0 C665.6,348.1 687.1,346.2 694.0,345.3" fill="none" stroke="#AEDDE3" stroke-width="4.6" clip-path="url(#mmcfclip)"/>
<polygon points="471.44,378.55 474.10,376.25 476.88,374.10 479.78,372.10 482.79,370.28 485.89,368.62 489.08,367.14 492.35,365.84 495.69,364.72 499.08,363.79 502.52,363.05 501.43,357.16 515.00,367.51 505.62,379.77 504.52,373.87 501.68,374.48 498.88,375.25 496.13,376.17 493.43,377.24 490.80,378.46 488.24,379.83 485.75,381.34 483.36,382.98 481.06,384.76 478.87,386.66" fill="#E083F0"/>
<polygon points="516.75,362.06 520.26,362.31 523.75,362.76 527.21,363.40 530.62,364.23 533.99,365.26 537.29,366.46 540.53,367.86 543.67,369.43 546.73,371.17 549.68,373.08 553.08,368.14 555.36,385.06 540.05,387.09 543.45,382.15 541.01,380.57 538.49,379.13 535.89,377.83 533.23,376.69 530.50,375.69 527.72,374.84 524.90,374.16 522.04,373.63 519.16,373.26 516.27,373.05" fill="#7FC641"/>
<polygon points="560.45,382.44 562.75,385.10 564.90,387.88 566.90,390.78 568.72,393.79 570.38,396.89 571.86,400.08 573.16,403.35 574.28,406.69 575.21,410.08 575.95,413.52 581.84,412.43 571.49,426.00 559.23,416.62 565.13,415.52 564.52,412.68 563.75,409.88 562.83,407.13 561.76,404.43 560.54,401.80 559.17,399.24 557.66,396.75 556.02,394.36 554.24,392.06 552.34,389.87" fill="#E083F0"/>
<polygon points="576.94,427.75 576.69,431.26 576.24,434.75 575.60,438.21 574.77,441.62 573.74,444.99 572.54,448.29 571.14,451.53 569.57,454.67 567.83,457.73 565.92,460.68 570.86,464.08 553.94,466.36 551.91,451.05 556.85,454.45 558.43,452.01 559.87,449.49 561.17,446.89 562.31,444.23 563.31,441.50 564.16,438.72 564.84,435.90 565.37,433.04 565.74,430.16 565.95,427.27" fill="#7FC641"/>
<polygon points="556.56,471.45 553.90,473.75 551.12,475.90 548.22,477.90 545.21,479.72 542.11,481.38 538.92,482.86 535.65,484.16 532.31,485.28 528.92,486.21 525.48,486.95 526.57,492.84 513.00,482.49 522.38,470.23 523.48,476.13 526.32,475.52 529.12,474.75 531.87,473.83 534.57,472.76 537.20,471.54 539.76,470.17 542.25,468.66 544.64,467.02 546.94,465.24 549.13,463.34" fill="#E083F0"/>
<polygon points="511.25,487.94 507.74,487.69 504.25,487.24 500.79,486.60 497.38,485.77 494.01,484.74 490.71,483.54 487.47,482.14 484.33,480.57 481.27,478.83 478.32,476.92 474.92,481.86 472.64,464.94 487.95,462.91 484.55,467.85 486.99,469.43 489.51,470.87 492.11,472.17 494.77,473.31 497.50,474.31 500.28,475.16 503.10,475.84 505.96,476.37 508.84,476.74 511.73,476.95" fill="#7FC641"/>
<polygon points="467.55,467.56 465.25,464.90 463.10,462.12 461.10,459.22 459.28,456.21 457.62,453.11 456.14,449.92 454.84,446.65 453.72,443.31 452.79,439.92 452.05,436.48 446.16,437.57 456.51,424.00 468.77,433.38 462.87,434.48 463.48,437.32 464.25,440.12 465.17,442.87 466.24,445.57 467.46,448.20 468.83,450.76 470.34,453.25 471.98,455.64 473.76,457.94 475.66,460.13" fill="#E083F0"/>
<polygon points="451.06,422.25 451.31,418.74 451.76,415.25 452.40,411.79 453.23,408.38 454.26,405.01 455.46,401.71 456.86,398.47 458.43,395.33 460.17,392.27 462.08,389.32 457.14,385.92 474.06,383.64 476.09,398.95 471.15,395.55 469.57,397.99 468.13,400.51 466.83,403.11 465.69,405.77 464.69,408.50 463.84,411.28 463.16,414.10 462.63,416.96 462.26,419.84 462.05,422.73" fill="#7FC641"/>
<text x="513.70" y="435.00" font-size="29.7" fill="#ED7D31" text-anchor="middle">MMCF</text>
<circle cx="351" cy="211" r="55.5" fill="url(#tcag)"/>
<circle cx="351" cy="211" r="32" fill="none" stroke="#7FC641" stroke-width="9" stroke-dasharray="10.24 8.04" transform="rotate(82 351 211)"/>
<text x="351.30" y="219.20" font-size="22.3" fill="#000" text-anchor="middle">TCA</text>
<circle cx="679.7" cy="640.3" r="56" fill="url(#tcap)"/>
<circle cx="679.7" cy="640.3" r="31.9" fill="none" stroke="#E29DED" stroke-width="8.6"/>
<text x="679.70" y="648.00" font-size="22" fill="#000" text-anchor="middle">TCA</text>
<line x1="101.00" y1="293.00" x2="128.50" y2="293.00" stroke="#00AEEF" stroke-width="5.8"/>
<polygon points="142.00,293.00 118.00,281.00 128.00,293.00 118.00,305.00" fill="#00AEEF"/>
<line x1="147.00" y1="293.00" x2="174.50" y2="293.00" stroke="#00AEEF" stroke-width="5.8"/>
<polygon points="188.00,293.00 164.00,281.00 174.00,293.00 164.00,305.00" fill="#00AEEF"/>
<line x1="192.40" y1="293.00" x2="219.50" y2="293.00" stroke="#00AEEF" stroke-width="5.8"/>
<polygon points="233.00,293.00 209.00,281.00 219.00,293.00 209.00,305.00" fill="#00AEEF"/>
<line x1="261.60" y1="305.00" x2="261.60" y2="323.50" stroke="#00AEEF" stroke-width="5.8"/>
<polygon points="261.60,337.00 273.60,313.00 261.60,323.00 249.60,313.00" fill="#00AEEF"/>
<line x1="261.60" y1="340.40" x2="261.60" y2="358.50" stroke="#00AEEF" stroke-width="5.8"/>
<polygon points="261.60,372.00 273.60,348.00 261.60,358.00 249.60,348.00" fill="#00AEEF"/>
<line x1="261.60" y1="375.40" x2="261.60" y2="393.50" stroke="#00AEEF" stroke-width="5.8"/>
<polygon points="261.60,407.00 273.60,383.00 261.60,393.00 249.60,383.00" fill="#00AEEF"/>
<line x1="261.60" y1="430.00" x2="261.60" y2="447.50" stroke="#00AEEF" stroke-width="5.8"/>
<polygon points="261.60,461.00 273.60,437.00 261.60,447.00 249.60,437.00" fill="#00AEEF"/>
<line x1="261.60" y1="465.40" x2="261.60" y2="482.90" stroke="#00AEEF" stroke-width="5.8"/>
<polygon points="261.60,496.40 273.60,472.40 261.60,482.40 249.60,472.40" fill="#00AEEF"/>
<line x1="261.60" y1="500.40" x2="261.60" y2="518.50" stroke="#00AEEF" stroke-width="5.8"/>
<polygon points="261.60,532.00 273.60,508.00 261.60,518.00 249.60,508.00" fill="#00AEEF"/>
<line x1="765.00" y1="330.00" x2="765.00" y2="311.50" stroke="#00AEEF" stroke-width="5.8"/>
<polygon points="765.00,298.00 753.00,322.00 765.00,312.00 777.00,322.00" fill="#00AEEF"/>
<line x1="765.00" y1="294.50" x2="765.00" y2="276.50" stroke="#00AEEF" stroke-width="5.8"/>
<polygon points="765.00,263.00 753.00,287.00 765.00,277.00 777.00,287.00" fill="#00AEEF"/>
<line x1="765.00" y1="259.50" x2="765.00" y2="241.50" stroke="#00AEEF" stroke-width="5.8"/>
<polygon points="765.00,228.00 753.00,252.00 765.00,242.00 777.00,252.00" fill="#00AEEF"/>
<line x1="261.00" y1="279.00" x2="311.10" y2="240.13" stroke="#DE9EEE" stroke-width="3.6"/>
<polygon points="319.00,234.00 299.14,237.77 310.70,240.44 310.42,252.30" fill="#DE9EEE"/>
<line x1="286.40" y1="293.60" x2="340.00" y2="293.60" stroke="#DE9EEE" stroke-width="3.6"/>
<polygon points="350.00,293.60 332.00,284.40 339.50,293.60 332.00,302.80" fill="#DE9EEE"/>
<line x1="352.40" y1="295.40" x2="352.40" y2="263.00" stroke="#DE9EEE" stroke-width="3.6"/>
<polygon points="352.40,253.00 343.20,271.00 352.40,263.50 361.60,271.00" fill="#DE9EEE"/>
<line x1="368.00" y1="171.00" x2="407.00" y2="171.00" stroke="#DE9EEE" stroke-width="3.6"/>
<polygon points="417.00,171.00 399.00,161.80 406.50,171.00 399.00,180.20" fill="#DE9EEE"/>
<line x1="452.40" y1="181.00" x2="452.40" y2="275.00" stroke="#DE9EEE" stroke-width="3.6"/>
<polygon points="452.40,285.00 461.60,267.00 452.40,274.50 443.20,267.00" fill="#DE9EEE"/>
<path d="M474,204.4 Q455,208 452.8,240" fill="none" stroke="#DE9EEE" stroke-width="3"/>
<rect x="418.6" y="290.5" width="68.4" height="70" rx="9" ry="9" fill="#fff" stroke="#DE9EEE" stroke-width="6"/>
<text x="453.00" y="311.50" font-size="17.3" fill="#000" text-anchor="middle">L-GLU</text>
<text x="453.00" y="325.50" font-size="17.3" fill="#000" text-anchor="middle">&amp;</text>
<text x="453.00" y="340.00" font-size="17.3" fill="#000" text-anchor="middle">Other</text>
<text x="453.00" y="354.30" font-size="17.3" fill="#000" text-anchor="middle">AAs</text>
<rect x="548.8" y="483.5" width="70" height="70" rx="10" ry="10" fill="#fff" stroke="#7FC641" stroke-width="5.5" stroke-dasharray="5.2 4.2"/>
<text x="584.30" y="501.60" font-size="17.3" fill="#000" text-anchor="middle">L-GLU</text>
<text x="584.30" y="516.60" font-size="17.3" fill="#000" text-anchor="middle">&amp;</text>
<text x="584.30" y="531.60" font-size="17.3" fill="#000" text-anchor="middle">Other</text>
<text x="584.30" y="546.00" font-size="17.3" fill="#000" text-anchor="middle">AAs</text>
<text x="-0.50" y="301.00" font-size="24" fill="#000">Glycerol</text>
<text x="260.80" y="301.40" font-size="24" fill="#000" text-anchor="middle">PEP</text>
<text x="262.50" y="425.00" font-size="24" fill="#00AEEF" text-anchor="middle">Tyrosine</text>
<text x="263.00" y="657.60" font-size="24" fill="#00AEEF" text-anchor="middle">Caffeate</text>
<text x="451.30" y="178.00" font-size="23.5" fill="#000" text-anchor="middle">α-KG</text>
<text x="478.00" y="212.40" font-size="18.5" fill="#000">NH<tspan font-size="12.5" dy="4.5">4</tspan><tspan font-size="12.5" dy="-11.5">+</tspan></text>
<text x="520.00" y="649.40" font-size="18.5" fill="#000">NH<tspan font-size="12.5" dy="4.5">4</tspan><tspan font-size="12.5" dy="-11.5">+</tspan></text>
<text x="763.40" y="220.75" font-size="23.5" fill="#00AEEF" text-anchor="middle">Coniferol</text>
<text x="762.30" y="354.00" font-size="24" fill="#00AEEF" text-anchor="middle">Caffeate</text>
<text x="771.00" y="567.40" font-size="24" fill="#000" text-anchor="middle">PEP</text>
<text x="982.40" y="565.00" font-size="24" fill="#000" text-anchor="middle">Glucose</text>
<text x="583.70" y="685.60" font-size="23.5" fill="#000" text-anchor="middle">α-KG</text>
<line x1="930.00" y1="558.00" x2="899.50" y2="558.00" stroke="#7FC641" stroke-width="3.6"/>
<polygon points="889.50,558.00 907.50,567.20 900.00,558.00 907.50,548.80" fill="#7FC641"/>
<line x1="884.00" y1="558.00" x2="853.00" y2="558.00" stroke="#7FC641" stroke-width="3.6"/>
<polygon points="843.00,558.00 861.00,567.20 853.50,558.00 861.00,548.80" fill="#7FC641"/>
<line x1="838.50" y1="558.00" x2="808.00" y2="558.00" stroke="#7FC641" stroke-width="3.6"/>
<polygon points="798.00,558.00 816.00,567.20 808.50,558.00 816.00,548.80" fill="#7FC641"/>
<line x1="745.00" y1="558.00" x2="691.00" y2="558.00" stroke="#7FC641" stroke-width="3.6"/>
<polygon points="681.00,558.00 699.00,567.20 691.50,558.00 699.00,548.80" fill="#7FC641"/>
<line x1="679.00" y1="556.20" x2="679.00" y2="589.00" stroke="#7FC641" stroke-width="3.6"/>
<polygon points="679.00,599.00 688.20,581.00 679.00,588.50 669.80,581.00" fill="#7FC641"/>
<line x1="772.00" y1="572.00" x2="720.89" y2="611.85" stroke="#7FC641" stroke-width="3.6"/>
<polygon points="713.00,618.00 732.85,614.19 721.28,611.54 721.54,599.68" fill="#7FC641"/>
<line x1="666.00" y1="678.00" x2="626.00" y2="678.00" stroke="#7FC641" stroke-width="3.6"/>
<polygon points="616.00,678.00 634.00,687.20 626.50,678.00 634.00,668.80" fill="#7FC641"/>
<line x1="585.00" y1="664.00" x2="585.00" y2="570.00" stroke="#7FC641" stroke-width="3.6"/>
<polygon points="585.00,560.00 575.80,578.00 585.00,570.50 594.20,578.00" fill="#7FC641"/>
<path d="M562,646 Q582,644 584.6,608" fill="none" stroke="#7FC641" stroke-width="3"/>
<path d="M588,664 Q642,612 596,570" fill="none" stroke="#2BBCCF" stroke-width="3.8"/>
<polygon points="588.00,561.00 593.28,579.26 594.78,568.35 605.78,567.73" fill="#2BBCCF"/>
<text x="608.80" y="575.00" font-size="15.8" fill="#2BBCCF" transform="rotate(62 608.80 575.00)">GdhA</text>
<line x1="765.40" y1="358.50" x2="765.40" y2="371.10" stroke="#000" stroke-width="4.2"/>
<polygon points="765.40,381.60 774.70,363.60 765.40,370.60 756.10,363.60" fill="#000"/>
<line x1="823.00" y1="413.00" x2="788.90" y2="413.00" stroke="#000" stroke-width="4.2"/>
<polygon points="778.40,413.00 796.40,422.30 789.40,413.00 796.40,403.70" fill="#000"/>
<line x1="765.40" y1="431.00" x2="765.40" y2="453.90" stroke="#000" stroke-width="4.2"/>
<polygon points="765.40,464.40 774.70,446.40 765.40,453.40 756.10,446.40" fill="#000"/>
<line x1="837.00" y1="479.00" x2="837.00" y2="441.50" stroke="#000" stroke-width="4.2"/>
<polygon points="837.00,431.00 827.70,449.00 837.00,442.00 846.30,449.00" fill="#000"/>
<line x1="728.00" y1="507.00" x2="639.14" y2="579.37" stroke="#000" stroke-width="4.2"/>
<polygon points="631.00,586.00 650.83,581.84 639.53,579.05 639.08,567.42" fill="#000"/>
<rect x="673.6" y="488" width="220.8" height="8" fill="#B3D8EE"/>
<rect x="677.4" y="468" width="21.6" height="4.6" fill="#2BBCCF"/>
<rect x="685.0" y="468" width="6.4" height="28" fill="#2BBCCF"/>
<rect x="783" y="468" width="21.6" height="4.6" fill="#29BFFF"/>
<rect x="790.6" y="468" width="6.4" height="28" fill="#29BFFF"/>
<path d="M775.2,496 V480 Q775.2,471.2 766.2,471.2 H761.2" fill="none" stroke="#2BBCCF" stroke-width="6.4"/>
<polygon points="751.2,471.2 763.7,463.5 763.7,479" fill="#2BBCCF"/>
<path d="M881.2,496 V480 Q881.2,471.2 872.2,471.2 H867.2" fill="none" stroke="#29BFFF" stroke-width="6.4"/>
<polygon points="857.2,471.2 869.7,463.5 869.7,479" fill="#29BFFF"/>
<rect x="701.4" y="481" width="56.6" height="24.6" rx="4" ry="4" fill="#2BBCCF"/>
<rect x="807.4" y="481" width="56.6" height="24.6" rx="4" ry="4" fill="#29BFFF"/>
<text x="729.20" y="499.00" font-size="17" fill="#000" text-anchor="middle" font-style="italic">gdhA</text>
<text x="836.50" y="499.00" font-size="17" fill="#000" text-anchor="middle" font-style="italic">dmpR</text>
<text x="758.80" y="508.50" font-size="14.5" fill="#2BBCCF">P</text>
<text x="769.00" y="512.40" font-size="9.5" fill="#2BBCCF">dmp</text>
<text x="865.50" y="508.50" font-size="14.5" fill="#29BFFF">P</text>
<text x="875.00" y="512.20" font-size="9.5" fill="#29BFFF">J23101</text>
<path d="M756.3,401 V424 A9.3,3.2 0 0 0 774.9,424 V401 Z" fill="#29BFFF" stroke="#6a6a6a" stroke-width="1"/>
<ellipse cx="765.6" cy="401" rx="9.3" ry="3.6" fill="#29BFFF" stroke="#6a6a6a" stroke-width="1"/>
<circle cx="765.6" cy="392.6" r="9.2" fill="#00AEEF" stroke="#6a6a6a" stroke-width="1"/>
<path d="M827.3,400 V424 A9.7,3.2 0 0 0 846.7,424 V400 A9.7,3.4 0 0 1 827.3,400 Z" fill="#29BFFF" stroke="#6a6a6a" stroke-width="1"/>
<polygon points="263.0,578.6 279.5,587.9 279.5,606.4 263.0,615.6 246.5,606.4 246.5,587.9" fill="none" stroke="#00AEEF" stroke-width="3.0" stroke-linejoin="round"/>
<path d="M264.0,585.0 L273.0,590.0 M252.4,590.0 L252.4,604.0 M264.0,609.6 L273.0,604.0 M263.0,578.6 L263.0,560.0 M263.0,560.0 L277.0,547.0 M258.0,554.0 L270.0,544.4 M277.0,547.0 L276.6,538.0 M246.4,606.3 L238.0,612.0 M263.0,615.6 L263.0,625.6" fill="none" stroke="#00AEEF" stroke-width="3.0" stroke-linecap="round" stroke-linejoin="round"/>
<text x="271.60" y="535.60" font-size="13.4" fill="#00AEEF">COOH</text>
<text x="218.20" y="620.30" font-size="13.4" fill="#00AEEF">HO</text>
<text x="257.60" y="637.30" font-size="13.4" fill="#00AEEF">OH</text>
<polygon points="924.6,157.5 946.9,169.7 946.9,194.0 924.6,206.1 902.3,194.0 902.3,169.7" fill="none" stroke="#00AEEF" stroke-width="3.8" stroke-linejoin="round"/>
<path d="M926.2,166.2 L938.7,173.0 M911.2,173.7 L911.2,190.0 M926.2,197.5 L938.7,190.5 M924.4,157.5 L924.4,132.5 M924.4,132.5 L942.5,116.2 M917.5,126.2 L933.7,112.5 M942.5,116.2 L942.0,93.7 M942.0,93.7 L952.5,83.7 M902.3,194.0 L891.0,202.0 M924.6,206.0 L924.6,221.0" fill="none" stroke="#00AEEF" stroke-width="3.8" stroke-linecap="round" stroke-linejoin="round"/>
<text x="952.30" y="83.20" font-size="17.4" fill="#00AEEF">OH</text>
<text x="917.40" y="235.40" font-size="17.4" fill="#00AEEF">OH</text>
<text x="843.80" y="213.20" font-size="17.4" fill="#00AEEF">H<tspan font-size="11.5" dy="4">3</tspan><tspan dy="-4">CO</tspan></text>
<path d="M764.5,199 C770,178 820,166 880,163.6" fill="none" stroke="#00AEEF" stroke-width="4"/>
<polygon points="891.40,163.20 873.60,155.02 880.91,163.57 874.22,172.61" fill="#00AEEF"/>
<text x="292.00" y="267.50" font-size="26" fill="#FF0000" text-anchor="middle" transform="rotate(-30 292.00 267.50)" stroke="#FF0000" stroke-width="0.9" stroke-linejoin="round">X</text>
<text x="315.60" y="303.20" font-size="25.5" fill="#FF0000" text-anchor="middle" stroke="#FF0000" stroke-width="0.9" stroke-linejoin="round">X</text>
<text x="585.00" y="606.40" font-size="25.5" fill="#FF0000" text-anchor="middle" stroke="#FF0000" stroke-width="0.9" stroke-linejoin="round">X</text>
<text x="5.70" y="115.70" font-size="43.6" fill="#000">a</text>
<text x="1049.00" y="33.00" font-size="44" fill="#000">b</text>
<text x="1553.70" y="33.50" font-size="44" fill="#000">c</text>
<text x="1046.00" y="427.00" font-size="44" fill="#000">d</text>
<text x="1550.80" y="427.00" font-size="44" fill="#000">e</text>
<path d="M1116.84,132.28 L1195.05,109.10 M1206.80,107.24 L1282.40,105.16 M1294.40,104.90 L1370.20,103.70 M1382.20,103.74 L1457.80,105.46 " fill="none" stroke="#29BFFF" stroke-width="1.6"/>
<path d="M1115.77,213.36 L1196.65,128.93 M1206.75,123.81 L1282.45,113.79 M1294.39,112.66 L1370.21,108.34 M1382.20,108.07 L1457.80,108.93 " fill="none" stroke="#29BFFF" stroke-width="1.6"/>
<path d="M1115.61,296.05 L1196.88,201.94 M1205.88,194.21 L1283.32,145.69 M1294.32,141.50 L1370.28,128.60 M1382.19,127.35 L1457.81,124.25 " fill="none" stroke="#29BFFF" stroke-width="1.6"/>
<path d="M1113.67,353.56 L1196.76,262.43 M1206.30,255.61 L1282.90,222.39 M1293.75,217.29 L1370.85,178.31 M1382.19,175.22 L1457.81,170.38 " fill="none" stroke="#404040" stroke-width="1.6"/>
<path d="M1113.70,353.58 L1196.61,268.69 M1206.38,262.21 L1282.82,232.19 M1293.65,227.09 L1370.95,184.31 M1382.12,180.45 L1457.88,168.35 " fill="none" stroke="#404040" stroke-width="1.6"/>
<path d="M1113.74,353.63 L1196.36,278.44 M1206.46,272.40 L1282.74,245.40 M1293.79,240.77 L1370.81,203.23 M1381.63,198.05 L1458.37,161.95 " fill="none" stroke="#404040" stroke-width="1.6"/>
<path d="M1200.80,99.00 V114.00 M1197.60,99.00 H1204.00 M1197.60,114.00 H1204.00" stroke="#29BFFF" stroke-width="1.4" fill="none"/>
<path d="M1288.40,98.00 V112.00 M1285.20,98.00 H1291.60 M1285.20,112.00 H1291.60" stroke="#29BFFF" stroke-width="1.4" fill="none"/>
<path d="M1376.20,97.00 V110.50 M1373.00,97.00 H1379.40 M1373.00,110.50 H1379.40" stroke="#29BFFF" stroke-width="1.4" fill="none"/>
<path d="M1463.80,101.00 V110.00 M1460.60,101.00 H1467.00 M1460.60,110.00 H1467.00" stroke="#29BFFF" stroke-width="1.4" fill="none"/>
<g clip-path="url(#clipL1113_36)">
<polygon points="1113.00,128.02 1114.27,131.67 1118.14,131.75 1115.05,134.09 1116.17,137.79 1113.00,135.58 1109.83,137.79 1110.95,134.09 1107.86,131.75 1111.73,131.67" fill="#29BFFF"/>
</g>
<polygon points="1200.80,102.00 1202.07,105.65 1205.94,105.73 1202.85,108.07 1203.97,111.77 1200.80,109.56 1197.63,111.77 1198.75,108.07 1195.66,105.73 1199.53,105.65" fill="#29BFFF"/>
<polygon points="1288.40,99.60 1289.67,103.25 1293.54,103.33 1290.45,105.67 1291.57,109.37 1288.40,107.16 1285.23,109.37 1286.35,105.67 1283.26,103.33 1287.13,103.25" fill="#29BFFF"/>
<polygon points="1376.20,98.20 1377.47,101.85 1381.34,101.93 1378.25,104.27 1379.37,107.97 1376.20,105.76 1373.03,107.97 1374.15,104.27 1371.06,101.93 1374.93,101.85" fill="#29BFFF"/>
<polygon points="1463.80,100.20 1465.07,103.85 1468.94,103.93 1465.85,106.27 1466.97,109.97 1463.80,107.76 1460.63,109.97 1461.75,106.27 1458.66,103.93 1462.53,103.85" fill="#29BFFF"/>
<path d="M1200.80,114.00 V135.60 M1197.60,114.00 H1204.00 M1197.60,135.60 H1204.00" stroke="#29BFFF" stroke-width="1.4" fill="none"/>
<path d="M1288.40,106.00 V121.00 M1285.20,106.00 H1291.60 M1285.20,121.00 H1291.60" stroke="#29BFFF" stroke-width="1.4" fill="none"/>
<path d="M1376.20,104.00 V113.00 M1373.00,104.00 H1379.40 M1373.00,113.00 H1379.40" stroke="#29BFFF" stroke-width="1.4" fill="none"/>
<path d="M1463.80,105.00 V114.00 M1460.60,105.00 H1467.00 M1460.60,114.00 H1467.00" stroke="#29BFFF" stroke-width="1.4" fill="none"/>
<g clip-path="url(#clipL1113_36)">
<circle cx="1113.00" cy="216.25" r="4.1" fill="url(#ballc)"/>
</g>
<circle cx="1200.80" cy="124.60" r="4.1" fill="url(#ballc)"/>
<circle cx="1288.40" cy="113.00" r="4.1" fill="url(#ballc)"/>
<circle cx="1376.20" cy="108.00" r="4.1" fill="url(#ballc)"/>
<circle cx="1463.80" cy="109.00" r="4.1" fill="url(#ballc)"/>
<path d="M1200.80,181.60 V213.00 M1197.60,181.60 H1204.00 M1197.60,213.00 H1204.00" stroke="#29BFFF" stroke-width="1.4" fill="none"/>
<path d="M1288.40,125.60 V160.00 M1285.20,125.60 H1291.60 M1285.20,160.00 H1291.60" stroke="#29BFFF" stroke-width="1.4" fill="none"/>
<path d="M1376.20,114.00 V146.40 M1373.00,114.00 H1379.40 M1373.00,146.40 H1379.40" stroke="#29BFFF" stroke-width="1.4" fill="none"/>
<path d="M1463.80,117.00 V140.60 M1460.60,117.00 H1467.00 M1460.60,140.60 H1467.00" stroke="#29BFFF" stroke-width="1.4" fill="none"/>
<g clip-path="url(#clipL1113_36)">
<polygon points="1107.40,299.08 1113.00,292.68 1118.60,299.08 1113.00,305.48" fill="#29BFFF"/>
</g>
<polygon points="1195.20,197.40 1200.80,191.00 1206.40,197.40 1200.80,203.80" fill="#29BFFF"/>
<polygon points="1282.80,142.50 1288.40,136.10 1294.00,142.50 1288.40,148.90" fill="#29BFFF"/>
<polygon points="1370.60,127.60 1376.20,121.20 1381.80,127.60 1376.20,134.00" fill="#29BFFF"/>
<polygon points="1458.20,124.00 1463.80,117.60 1469.40,124.00 1463.80,130.40" fill="#29BFFF"/>
<path d="M1200.80,254.00 V262.00 M1197.60,254.00 H1204.00 M1197.60,262.00 H1204.00" stroke="#404040" stroke-width="1.4" fill="none"/>
<path d="M1288.40,212.00 V228.00 M1285.20,212.00 H1291.60 M1285.20,228.00 H1291.60" stroke="#404040" stroke-width="1.4" fill="none"/>
<path d="M1376.20,170.40 V181.00 M1373.00,170.40 H1379.40 M1373.00,181.00 H1379.40" stroke="#404040" stroke-width="1.4" fill="none"/>
<path d="M1463.80,165.00 V174.40 M1460.60,165.00 H1467.00 M1460.60,174.40 H1467.00" stroke="#404040" stroke-width="1.4" fill="none"/>
<polygon points="1113.8,353.5 1113.8,347.8 1119.5,353.5" fill="#404040"/>
<polygon points="1200.80,252.60 1202.07,256.25 1205.94,256.33 1202.85,258.67 1203.97,262.37 1200.80,260.16 1197.63,262.37 1198.75,258.67 1195.66,256.33 1199.53,256.25" fill="#404040"/>
<polygon points="1288.40,214.60 1289.67,218.25 1293.54,218.33 1290.45,220.67 1291.57,224.37 1288.40,222.16 1285.23,224.37 1286.35,220.67 1283.26,218.33 1287.13,218.25" fill="#404040"/>
<polygon points="1376.20,170.20 1377.47,173.85 1381.34,173.93 1378.25,176.27 1379.37,179.97 1376.20,177.76 1373.03,179.97 1374.15,176.27 1371.06,173.93 1374.93,173.85" fill="#404040"/>
<polygon points="1463.80,164.60 1465.07,168.25 1468.94,168.33 1465.85,170.67 1466.97,174.37 1463.80,172.16 1460.63,174.37 1461.75,170.67 1458.66,168.33 1462.53,168.25" fill="#404040"/>
<path d="M1200.80,261.00 V268.00 M1197.60,261.00 H1204.00 M1197.60,268.00 H1204.00" stroke="#404040" stroke-width="1.4" fill="none"/>
<path d="M1288.40,224.00 V236.00 M1285.20,224.00 H1291.60 M1285.20,236.00 H1291.60" stroke="#404040" stroke-width="1.4" fill="none"/>
<path d="M1376.20,177.00 V186.00 M1373.00,177.00 H1379.40 M1373.00,186.00 H1379.40" stroke="#404040" stroke-width="1.4" fill="none"/>
<path d="M1463.80,163.00 V172.00 M1460.60,163.00 H1467.00 M1460.60,172.00 H1467.00" stroke="#404040" stroke-width="1.4" fill="none"/>
<polygon points="1113.8,353.5 1113.8,347.8 1119.5,353.5" fill="#404040"/>
<circle cx="1200.80" cy="264.40" r="4.1" fill="url(#balld)"/>
<circle cx="1288.40" cy="230.00" r="4.1" fill="url(#balld)"/>
<circle cx="1376.20" cy="181.40" r="4.1" fill="url(#balld)"/>
<circle cx="1463.80" cy="167.40" r="4.1" fill="url(#balld)"/>
<path d="M1200.80,270.00 V279.00 M1197.60,270.00 H1204.00 M1197.60,279.00 H1204.00" stroke="#404040" stroke-width="1.4" fill="none"/>
<path d="M1288.40,234.00 V252.40 M1285.20,234.00 H1291.60 M1285.20,252.40 H1291.60" stroke="#404040" stroke-width="1.4" fill="none"/>
<path d="M1376.20,194.40 V206.40 M1373.00,194.40 H1379.40 M1373.00,206.40 H1379.40" stroke="#404040" stroke-width="1.4" fill="none"/>
<path d="M1463.80,151.60 V167.00 M1460.60,151.60 H1467.00 M1460.60,167.00 H1467.00" stroke="#404040" stroke-width="1.4" fill="none"/>
<polygon points="1113.8,353.5 1113.8,347.8 1119.5,353.5" fill="#404040"/>
<polygon points="1195.20,274.40 1200.80,268.00 1206.40,274.40 1200.80,280.80" fill="#404040"/>
<polygon points="1282.80,243.40 1288.40,237.00 1294.00,243.40 1288.40,249.80" fill="#404040"/>
<polygon points="1370.60,200.60 1376.20,194.20 1381.80,200.60 1376.20,207.00" fill="#404040"/>
<polygon points="1458.20,159.40 1463.80,153.00 1469.40,159.40 1463.80,165.80" fill="#404040"/>
<path d="M1113,35.75 V355.05" stroke="#29BFFF" stroke-width="1.6" fill="none"/>
<path d="M1113.8,36.5 H1471.5" stroke="#000" stroke-width="1.6" fill="none"/>
<path d="M1470.7,36.5 V354.3" stroke="#000" stroke-width="1.6" fill="none"/>
<path d="M1113.8,354.3 H1471.5" stroke="#000" stroke-width="1.6" fill="none"/>
<text x="1106.70" y="361.70" font-size="24" fill="#29BFFF" text-anchor="end" textLength="11.75" lengthAdjust="spacingAndGlyphs">0</text>
<path d="M1113,299.08 h5.4" stroke="#29BFFF" stroke-width="1.6"/>
<text x="1106.70" y="306.48" font-size="24" fill="#29BFFF" text-anchor="end" textLength="23.49" lengthAdjust="spacingAndGlyphs">20</text>
<path d="M1113,243.86 h5.4" stroke="#29BFFF" stroke-width="1.6"/>
<text x="1106.70" y="251.26" font-size="24" fill="#29BFFF" text-anchor="end" textLength="23.49" lengthAdjust="spacingAndGlyphs">40</text>
<path d="M1113,188.64 h5.4" stroke="#29BFFF" stroke-width="1.6"/>
<text x="1106.70" y="196.04" font-size="24" fill="#29BFFF" text-anchor="end" textLength="23.49" lengthAdjust="spacingAndGlyphs">60</text>
<path d="M1113,133.42 h5.4" stroke="#29BFFF" stroke-width="1.6"/>
<text x="1106.70" y="140.82" font-size="24" fill="#29BFFF" text-anchor="end" textLength="23.49" lengthAdjust="spacingAndGlyphs">80</text>
<path d="M1113,78.20 h5.4" stroke="#29BFFF" stroke-width="1.6"/>
<text x="1106.70" y="85.60" font-size="24" fill="#29BFFF" text-anchor="end" textLength="35.24" lengthAdjust="spacingAndGlyphs">100</text>
<text x="1476.30" y="361.70" font-size="24" fill="#000" textLength="11.75" lengthAdjust="spacingAndGlyphs">0</text>
<path d="M1470.7,290.80 h-5.4" stroke="#000" stroke-width="1.6"/>
<text x="1476.30" y="298.20" font-size="24" fill="#000" textLength="11.75" lengthAdjust="spacingAndGlyphs">2</text>
<path d="M1470.7,227.30 h-5.4" stroke="#000" stroke-width="1.6"/>
<text x="1476.30" y="234.70" font-size="24" fill="#000" textLength="11.75" lengthAdjust="spacingAndGlyphs">4</text>
<path d="M1470.7,163.80 h-5.4" stroke="#000" stroke-width="1.6"/>
<text x="1476.30" y="171.20" font-size="24" fill="#000" textLength="11.75" lengthAdjust="spacingAndGlyphs">6</text>
<path d="M1470.7,100.20 h-5.4" stroke="#000" stroke-width="1.6"/>
<text x="1476.30" y="107.60" font-size="24" fill="#000" textLength="11.75" lengthAdjust="spacingAndGlyphs">8</text>
<text x="1476.30" y="43.90" font-size="24" fill="#000" textLength="23.49" lengthAdjust="spacingAndGlyphs">10</text>
<text x="1113.00" y="378.80" font-size="24" fill="#000" text-anchor="middle" textLength="11.75" lengthAdjust="spacingAndGlyphs">0</text>
<path d="M1200.80,354.3 v-5.4" stroke="#000" stroke-width="1.6"/>
<text x="1200.80" y="378.80" font-size="24" fill="#000" text-anchor="middle" textLength="23.49" lengthAdjust="spacingAndGlyphs">12</text>
<path d="M1288.40,354.3 v-5.4" stroke="#000" stroke-width="1.6"/>
<text x="1288.40" y="378.80" font-size="24" fill="#000" text-anchor="middle" textLength="23.49" lengthAdjust="spacingAndGlyphs">24</text>
<path d="M1376.20,354.3 v-5.4" stroke="#000" stroke-width="1.6"/>
<text x="1376.20" y="378.80" font-size="24" fill="#000" text-anchor="middle" textLength="23.49" lengthAdjust="spacingAndGlyphs">36</text>
<path d="M1463.80,354.3 v-5.4" stroke="#000" stroke-width="1.6"/>
<text x="1464.30" y="378.80" font-size="24" fill="#000" text-anchor="middle" textLength="23.49" lengthAdjust="spacingAndGlyphs">48</text>
<text x="1123.60" y="57.10" font-size="19.3" fill="#29BFFF" textLength="138.00" lengthAdjust="spacingAndGlyphs">Bgly2-Caf IIRs :</text>
<path d="M1123.60,78.2 h28.6" stroke="#29BFFF" stroke-width="1.6"/>
<circle cx="1137.90" cy="78.2" r="5.4" fill="#fff"/>
<polygon points="1137.90,73.60 1138.98,76.71 1142.27,76.78 1139.65,78.77 1140.60,81.92 1137.90,80.04 1135.20,81.92 1136.15,78.77 1133.53,76.78 1136.82,76.71" fill="#29BFFF"/>
<path d="M1157.10,78.2 h28.6" stroke="#404040" stroke-width="1.6"/>
<circle cx="1171.40" cy="78.2" r="5.4" fill="#fff"/>
<polygon points="1171.40,73.60 1172.48,76.71 1175.77,76.78 1173.15,78.77 1174.10,81.92 1171.40,80.04 1168.70,81.92 1169.65,78.77 1167.03,76.78 1170.32,76.71" fill="#404040"/>
<text x="1191.00" y="83.60" font-size="22.5" fill="#29BFFF" textLength="37.50" lengthAdjust="spacingAndGlyphs">80%</text>
<path d="M1238.30,78.2 h28.6" stroke="#29BFFF" stroke-width="1.6"/>
<circle cx="1252.60" cy="78.2" r="5.4" fill="#fff"/>
<circle cx="1252.60" cy="78.20" r="3.6" fill="url(#ballc)"/>
<path d="M1272.10,78.2 h28.6" stroke="#404040" stroke-width="1.6"/>
<circle cx="1286.40" cy="78.2" r="5.4" fill="#fff"/>
<circle cx="1286.40" cy="78.20" r="3.6" fill="url(#balld)"/>
<text x="1306.20" y="83.60" font-size="22.5" fill="#29BFFF" textLength="37.50" lengthAdjust="spacingAndGlyphs">50%</text>
<path d="M1353.40,78.2 h28.6" stroke="#29BFFF" stroke-width="1.6"/>
<circle cx="1367.70" cy="78.2" r="5.4" fill="#fff"/>
<polygon points="1362.50,78.20 1367.70,72.60 1372.90,78.20 1367.70,83.80" fill="#29BFFF"/>
<path d="M1387.40,78.2 h28.6" stroke="#404040" stroke-width="1.6"/>
<circle cx="1401.70" cy="78.2" r="5.4" fill="#fff"/>
<polygon points="1396.50,78.20 1401.70,72.60 1406.90,78.20 1401.70,83.80" fill="#404040"/>
<text x="1420.60" y="83.60" font-size="22.5" fill="#29BFFF" textLength="37.50" lengthAdjust="spacingAndGlyphs">20%</text>
<text x="1066.50" y="195.40" font-size="21" fill="#29BFFF" text-anchor="middle" transform="rotate(-90 1066.50 195.40)" textLength="281.00" lengthAdjust="spacingAndGlyphs">Bgly2-Caf percentage (%)</text>
<text x="1524.10" y="195.40" font-size="21" fill="#000" text-anchor="middle" transform="rotate(-90 1524.10 195.40)" textLength="272.00" lengthAdjust="spacingAndGlyphs">Total cell density (OD<tspan font-size="13" dy="4">600</tspan><tspan dy="-4">)</tspan></text>
<text x="1292.25" y="414.50" font-size="23.3" fill="#000" text-anchor="middle" textLength="83.50" lengthAdjust="spacingAndGlyphs">Time (h)</text>
<path d="M1115.94,540.47 L1196.59,614.93 M1206.89,617.86 L1282.71,603.14 M1294.59,602.27 L1370.61,605.73 M1382.60,606.20 L1458.40,608.80 " fill="none" stroke="#29BFFF" stroke-width="1.6"/>
<path d="M1116.46,622.80 L1195.80,668.60 M1206.61,669.47 L1282.99,640.53 M1294.48,637.21 L1370.72,621.79 M1382.58,620.15 L1458.42,614.45 " fill="none" stroke="#29BFFF" stroke-width="1.6"/>
<path d="M1117.00,704.01 L1195.01,707.25 M1206.61,705.37 L1282.99,676.43 M1293.96,671.60 L1371.24,632.70 M1382.52,629.03 L1458.48,616.57 " fill="none" stroke="#29BFFF" stroke-width="1.6"/>
<path d="M1113.68,758.47 L1196.93,668.41 M1206.30,661.18 L1283.30,620.22 M1294.25,615.38 L1370.95,588.02 M1382.04,583.46 L1458.96,547.54 " fill="none" stroke="#404040" stroke-width="1.6"/>
<path d="M1113.67,758.46 L1196.97,666.45 M1206.13,658.89 L1283.47,612.11 M1293.68,605.80 L1371.52,556.80 M1382.48,552.39 L1458.52,536.81 " fill="none" stroke="#404040" stroke-width="1.6"/>
<path d="M1113.67,758.46 L1197.00,665.47 M1206.13,657.89 L1283.47,611.11 M1293.70,604.85 L1371.50,556.75 M1382.24,551.55 L1458.76,523.65 " fill="none" stroke="#404040" stroke-width="1.6"/>
<path d="M1201.00,602.40 V634.40 M1197.80,602.40 H1204.20 M1197.80,634.40 H1204.20" stroke="#29BFFF" stroke-width="1.4" fill="none"/>
<path d="M1288.60,588.60 V616.00 M1285.40,588.60 H1291.80 M1285.40,616.00 H1291.80" stroke="#29BFFF" stroke-width="1.4" fill="none"/>
<path d="M1376.60,593.60 V619.00 M1373.40,593.60 H1379.80 M1373.40,619.00 H1379.80" stroke="#29BFFF" stroke-width="1.4" fill="none"/>
<path d="M1464.40,593.00 V625.00 M1461.20,593.00 H1467.60 M1461.20,625.00 H1467.60" stroke="#29BFFF" stroke-width="1.4" fill="none"/>
<g clip-path="url(#clipL1113_440)">
<polygon points="1113.00,532.36 1114.27,536.01 1118.14,536.09 1115.05,538.43 1116.17,542.13 1113.00,539.92 1109.83,542.13 1110.95,538.43 1107.86,536.09 1111.73,536.01" fill="#29BFFF"/>
</g>
<polygon points="1201.00,613.60 1202.27,617.25 1206.14,617.33 1203.05,619.67 1204.17,623.37 1201.00,621.16 1197.83,623.37 1198.95,619.67 1195.86,617.33 1199.73,617.25" fill="#29BFFF"/>
<polygon points="1288.60,596.60 1289.87,600.25 1293.74,600.33 1290.65,602.67 1291.77,606.37 1288.60,604.16 1285.43,606.37 1286.55,602.67 1283.46,600.33 1287.33,600.25" fill="#29BFFF"/>
<polygon points="1376.60,600.60 1377.87,604.25 1381.74,604.33 1378.65,606.67 1379.77,610.37 1376.60,608.16 1373.43,610.37 1374.55,606.67 1371.46,604.33 1375.33,604.25" fill="#29BFFF"/>
<polygon points="1464.40,603.60 1465.67,607.25 1469.54,607.33 1466.45,609.67 1467.57,613.37 1464.40,611.16 1461.23,613.37 1462.35,609.67 1459.26,607.33 1463.13,607.25" fill="#29BFFF"/>
<path d="M1201.00,663.00 V680.50 M1197.80,663.00 H1204.20 M1197.80,680.50 H1204.20" stroke="#29BFFF" stroke-width="1.4" fill="none"/>
<path d="M1288.60,622.00 V655.60 M1285.40,622.00 H1291.80 M1285.40,655.60 H1291.80" stroke="#29BFFF" stroke-width="1.4" fill="none"/>
<path d="M1376.60,607.00 V634.00 M1373.40,607.00 H1379.80 M1373.40,634.00 H1379.80" stroke="#29BFFF" stroke-width="1.4" fill="none"/>
<path d="M1464.40,599.00 V629.00 M1461.20,599.00 H1467.60 M1461.20,629.00 H1467.60" stroke="#29BFFF" stroke-width="1.4" fill="none"/>
<g clip-path="url(#clipL1113_440)">
<circle cx="1113.00" cy="620.80" r="4.1" fill="url(#ballc)"/>
</g>
<circle cx="1201.00" cy="671.60" r="4.1" fill="url(#ballc)"/>
<circle cx="1288.60" cy="638.40" r="4.1" fill="url(#ballc)"/>
<circle cx="1376.60" cy="620.60" r="4.1" fill="url(#ballc)"/>
<circle cx="1464.40" cy="614.00" r="4.1" fill="url(#ballc)"/>
<path d="M1201.00,701.00 V713.50 M1197.80,701.00 H1204.20 M1197.80,713.50 H1204.20" stroke="#29BFFF" stroke-width="1.4" fill="none"/>
<path d="M1288.60,662.40 V685.80 M1285.40,662.40 H1291.80 M1285.40,685.80 H1291.80" stroke="#29BFFF" stroke-width="1.4" fill="none"/>
<path d="M1376.60,611.00 V649.60 M1373.40,611.00 H1379.80 M1373.40,649.60 H1379.80" stroke="#29BFFF" stroke-width="1.4" fill="none"/>
<path d="M1464.40,597.00 V634.00 M1461.20,597.00 H1467.60 M1461.20,634.00 H1467.60" stroke="#29BFFF" stroke-width="1.4" fill="none"/>
<g clip-path="url(#clipL1113_440)">
<polygon points="1107.40,703.84 1113.00,697.44 1118.60,703.84 1113.00,710.24" fill="#29BFFF"/>
</g>
<polygon points="1195.40,707.50 1201.00,701.10 1206.60,707.50 1201.00,713.90" fill="#29BFFF"/>
<polygon points="1283.00,674.30 1288.60,667.90 1294.20,674.30 1288.60,680.70" fill="#29BFFF"/>
<polygon points="1371.00,630.00 1376.60,623.60 1382.20,630.00 1376.60,636.40" fill="#29BFFF"/>
<polygon points="1458.80,615.60 1464.40,609.20 1470.00,615.60 1464.40,622.00" fill="#29BFFF"/>
<path d="M1201.00,660.00 V668.00 M1197.80,660.00 H1204.20 M1197.80,668.00 H1204.20" stroke="#404040" stroke-width="1.4" fill="none"/>
<path d="M1288.60,611.00 V623.00 M1285.40,611.00 H1291.80 M1285.40,623.00 H1291.80" stroke="#404040" stroke-width="1.4" fill="none"/>
<path d="M1376.60,580.00 V592.00 M1373.40,580.00 H1379.80 M1373.40,592.00 H1379.80" stroke="#404040" stroke-width="1.4" fill="none"/>
<path d="M1464.40,538.00 V552.00 M1461.20,538.00 H1467.60 M1461.20,552.00 H1467.60" stroke="#404040" stroke-width="1.4" fill="none"/>
<polygon points="1113.8,758.4000000000001 1113.8,752.7 1119.5,758.4000000000001" fill="#404040"/>
<polygon points="1201.00,658.60 1202.27,662.25 1206.14,662.33 1203.05,664.67 1204.17,668.37 1201.00,666.16 1197.83,668.37 1198.95,664.67 1195.86,662.33 1199.73,662.25" fill="#404040"/>
<polygon points="1288.60,612.00 1289.87,615.65 1293.74,615.73 1290.65,618.07 1291.77,621.77 1288.60,619.56 1285.43,621.77 1286.55,618.07 1283.46,615.73 1287.33,615.65" fill="#404040"/>
<polygon points="1376.60,580.60 1377.87,584.25 1381.74,584.33 1378.65,586.67 1379.77,590.37 1376.60,588.16 1373.43,590.37 1374.55,586.67 1371.46,584.33 1375.33,584.25" fill="#404040"/>
<polygon points="1464.40,539.60 1465.67,543.25 1469.54,543.33 1466.45,545.67 1467.57,549.37 1464.40,547.16 1461.23,549.37 1462.35,545.67 1459.26,543.33 1463.13,543.25" fill="#404040"/>
<path d="M1201.00,658.00 V666.00 M1197.80,658.00 H1204.20 M1197.80,666.00 H1204.20" stroke="#404040" stroke-width="1.4" fill="none"/>
<path d="M1288.60,604.00 V614.00 M1285.40,604.00 H1291.80 M1285.40,614.00 H1291.80" stroke="#404040" stroke-width="1.4" fill="none"/>
<path d="M1376.60,549.00 V558.00 M1373.40,549.00 H1379.80 M1373.40,558.00 H1379.80" stroke="#404040" stroke-width="1.4" fill="none"/>
<path d="M1464.40,529.00 V542.00 M1461.20,529.00 H1467.60 M1461.20,542.00 H1467.60" stroke="#404040" stroke-width="1.4" fill="none"/>
<polygon points="1113.8,758.4000000000001 1113.8,752.7 1119.5,758.4000000000001" fill="#404040"/>
<circle cx="1201.00" cy="662.00" r="4.1" fill="url(#balld)"/>
<circle cx="1288.60" cy="609.00" r="4.1" fill="url(#balld)"/>
<circle cx="1376.60" cy="553.60" r="4.1" fill="url(#balld)"/>
<circle cx="1464.40" cy="535.60" r="4.1" fill="url(#balld)"/>
<path d="M1201.00,656.00 V666.00 M1197.80,656.00 H1204.20 M1197.80,666.00 H1204.20" stroke="#404040" stroke-width="1.4" fill="none"/>
<path d="M1288.60,602.00 V614.00 M1285.40,602.00 H1291.80 M1285.40,614.00 H1291.80" stroke="#404040" stroke-width="1.4" fill="none"/>
<path d="M1376.60,548.00 V559.00 M1373.40,548.00 H1379.80 M1373.40,559.00 H1379.80" stroke="#404040" stroke-width="1.4" fill="none"/>
<path d="M1464.40,512.60 V530.60 M1461.20,512.60 H1467.60 M1461.20,530.60 H1467.60" stroke="#404040" stroke-width="1.4" fill="none"/>
<polygon points="1113.8,758.4000000000001 1113.8,752.7 1119.5,758.4000000000001" fill="#404040"/>
<polygon points="1195.40,661.00 1201.00,654.60 1206.60,661.00 1201.00,667.40" fill="#404040"/>
<polygon points="1283.00,608.00 1288.60,601.60 1294.20,608.00 1288.60,614.40" fill="#404040"/>
<polygon points="1371.00,553.60 1376.60,547.20 1382.20,553.60 1376.60,560.00" fill="#404040"/>
<polygon points="1458.80,521.60 1464.40,515.20 1470.00,521.60 1464.40,528.00" fill="#404040"/>
<path d="M1113,439.55 V759.95" stroke="#29BFFF" stroke-width="1.6" fill="none"/>
<path d="M1113.8,440.3 H1471.5" stroke="#000" stroke-width="1.6" fill="none"/>
<path d="M1470.7,440.3 V759.2" stroke="#000" stroke-width="1.6" fill="none"/>
<path d="M1113.8,759.2 H1471.5" stroke="#000" stroke-width="1.6" fill="none"/>
<text x="1106.70" y="766.60" font-size="24" fill="#29BFFF" text-anchor="end" textLength="11.75" lengthAdjust="spacingAndGlyphs">0</text>
<path d="M1113,703.84 h5.4" stroke="#29BFFF" stroke-width="1.6"/>
<text x="1106.70" y="711.24" font-size="24" fill="#29BFFF" text-anchor="end" textLength="23.49" lengthAdjust="spacingAndGlyphs">20</text>
<path d="M1113,648.48 h5.4" stroke="#29BFFF" stroke-width="1.6"/>
<text x="1106.70" y="655.88" font-size="24" fill="#29BFFF" text-anchor="end" textLength="23.49" lengthAdjust="spacingAndGlyphs">40</text>
<path d="M1113,593.12 h5.4" stroke="#29BFFF" stroke-width="1.6"/>
<text x="1106.70" y="600.52" font-size="24" fill="#29BFFF" text-anchor="end" textLength="23.49" lengthAdjust="spacingAndGlyphs">60</text>
<path d="M1113,537.76 h5.4" stroke="#29BFFF" stroke-width="1.6"/>
<text x="1106.70" y="545.16" font-size="24" fill="#29BFFF" text-anchor="end" textLength="23.49" lengthAdjust="spacingAndGlyphs">80</text>
<path d="M1113,482.40 h5.4" stroke="#29BFFF" stroke-width="1.6"/>
<text x="1106.70" y="489.80" font-size="24" fill="#29BFFF" text-anchor="end" textLength="35.24" lengthAdjust="spacingAndGlyphs">100</text>
<text x="1476.30" y="766.60" font-size="24" fill="#000" textLength="11.75" lengthAdjust="spacingAndGlyphs">0</text>
<path d="M1470.7,701.30 h-5.4" stroke="#000" stroke-width="1.6"/>
<text x="1476.30" y="708.70" font-size="24" fill="#000" textLength="11.75" lengthAdjust="spacingAndGlyphs">2</text>
<path d="M1470.7,643.40 h-5.4" stroke="#000" stroke-width="1.6"/>
<text x="1476.30" y="650.80" font-size="24" fill="#000" textLength="11.75" lengthAdjust="spacingAndGlyphs">4</text>
<path d="M1470.7,585.50 h-5.4" stroke="#000" stroke-width="1.6"/>
<text x="1476.30" y="592.90" font-size="24" fill="#000" textLength="11.75" lengthAdjust="spacingAndGlyphs">6</text>
<path d="M1470.7,527.60 h-5.4" stroke="#000" stroke-width="1.6"/>
<text x="1476.30" y="535.00" font-size="24" fill="#000" textLength="11.75" lengthAdjust="spacingAndGlyphs">8</text>
<path d="M1470.7,469.70 h-5.4" stroke="#000" stroke-width="1.6"/>
<text x="1476.30" y="477.10" font-size="24" fill="#000" textLength="23.49" lengthAdjust="spacingAndGlyphs">10</text>
<text x="1113.00" y="783.70" font-size="24" fill="#000" text-anchor="middle" textLength="11.75" lengthAdjust="spacingAndGlyphs">0</text>
<path d="M1201.00,759.2 v-5.4" stroke="#000" stroke-width="1.6"/>
<text x="1201.00" y="783.70" font-size="24" fill="#000" text-anchor="middle" textLength="23.49" lengthAdjust="spacingAndGlyphs">12</text>
<path d="M1288.60,759.2 v-5.4" stroke="#000" stroke-width="1.6"/>
<text x="1288.60" y="783.70" font-size="24" fill="#000" text-anchor="middle" textLength="23.49" lengthAdjust="spacingAndGlyphs">24</text>
<path d="M1376.60,759.2 v-5.4" stroke="#000" stroke-width="1.6"/>
<text x="1376.60" y="783.70" font-size="24" fill="#000" text-anchor="middle" textLength="23.49" lengthAdjust="spacingAndGlyphs">36</text>
<path d="M1464.40,759.2 v-5.4" stroke="#000" stroke-width="1.6"/>
<text x="1464.90" y="783.70" font-size="24" fill="#000" text-anchor="middle" textLength="23.49" lengthAdjust="spacingAndGlyphs">48</text>
<text x="1123.60" y="460.90" font-size="19.3" fill="#29BFFF" textLength="138.00" lengthAdjust="spacingAndGlyphs">Bgly2-Caf IIRs :</text>
<path d="M1123.60,482.4 h28.6" stroke="#29BFFF" stroke-width="1.6"/>
<circle cx="1137.90" cy="482.4" r="5.4" fill="#fff"/>
<polygon points="1137.90,477.80 1138.98,480.91 1142.27,480.98 1139.65,482.97 1140.60,486.12 1137.90,484.24 1135.20,486.12 1136.15,482.97 1133.53,480.98 1136.82,480.91" fill="#29BFFF"/>
<path d="M1157.10,482.4 h28.6" stroke="#404040" stroke-width="1.6"/>
<circle cx="1171.40" cy="482.4" r="5.4" fill="#fff"/>
<polygon points="1171.40,477.80 1172.48,480.91 1175.77,480.98 1173.15,482.97 1174.10,486.12 1171.40,484.24 1168.70,486.12 1169.65,482.97 1167.03,480.98 1170.32,480.91" fill="#404040"/>
<text x="1191.00" y="487.80" font-size="22.5" fill="#29BFFF" textLength="37.50" lengthAdjust="spacingAndGlyphs">80%</text>
<path d="M1238.30,482.4 h28.6" stroke="#29BFFF" stroke-width="1.6"/>
<circle cx="1252.60" cy="482.4" r="5.4" fill="#fff"/>
<circle cx="1252.60" cy="482.40" r="3.6" fill="url(#ballc)"/>
<path d="M1272.10,482.4 h28.6" stroke="#404040" stroke-width="1.6"/>
<circle cx="1286.40" cy="482.4" r="5.4" fill="#fff"/>
<circle cx="1286.40" cy="482.40" r="3.6" fill="url(#balld)"/>
<text x="1306.20" y="487.80" font-size="22.5" fill="#29BFFF" textLength="37.50" lengthAdjust="spacingAndGlyphs">50%</text>
<path d="M1353.40,482.4 h28.6" stroke="#29BFFF" stroke-width="1.6"/>
<circle cx="1367.70" cy="482.4" r="5.4" fill="#fff"/>
<polygon points="1362.50,482.40 1367.70,476.80 1372.90,482.40 1367.70,488.00" fill="#29BFFF"/>
<path d="M1387.40,482.4 h28.6" stroke="#404040" stroke-width="1.6"/>
<circle cx="1401.70" cy="482.4" r="5.4" fill="#fff"/>
<polygon points="1396.50,482.40 1401.70,476.80 1406.90,482.40 1401.70,488.00" fill="#404040"/>
<text x="1420.60" y="487.80" font-size="22.5" fill="#29BFFF" textLength="37.50" lengthAdjust="spacingAndGlyphs">20%</text>
<text x="1066.50" y="599.75" font-size="21" fill="#29BFFF" text-anchor="middle" transform="rotate(-90 1066.50 599.75)" textLength="281.00" lengthAdjust="spacingAndGlyphs">Bgly2-Caf percentage (%)</text>
<text x="1524.10" y="599.75" font-size="21" fill="#000" text-anchor="middle" transform="rotate(-90 1524.10 599.75)" textLength="272.00" lengthAdjust="spacingAndGlyphs">Total cell density (OD<tspan font-size="13" dy="4">600</tspan><tspan dy="-4">)</tspan></text>
<text x="1292.25" y="819.40" font-size="23.3" fill="#000" text-anchor="middle" textLength="83.50" lengthAdjust="spacingAndGlyphs">Time (h)</text>
<rect x="1660.40" y="271.60" width="31.20" height="85.80" fill="#00CC00" stroke="#3a3a3a" stroke-width="0.9"/>
<rect x="1691.60" y="114.40" width="31.00" height="243.00" fill="#66D3FF" stroke="#3a3a3a" stroke-width="0.9"/>
<rect x="1784.40" y="240.00" width="31.20" height="117.40" fill="#00CC00" stroke="#3a3a3a" stroke-width="0.9"/>
<rect x="1815.60" y="164.00" width="31.00" height="193.40" fill="#66D3FF" stroke="#3a3a3a" stroke-width="0.9"/>
<rect x="1908.40" y="226.20" width="31.20" height="131.20" fill="#00CC00" stroke="#3a3a3a" stroke-width="0.9"/>
<rect x="1939.60" y="204.40" width="31.00" height="153.00" fill="#66D3FF" stroke="#3a3a3a" stroke-width="0.9"/>
<path d="M1676.00,259.40 V284.00 M1672.60,259.40 H1679.40 M1672.60,284.00 H1679.40" stroke="#000" stroke-width="1.5" fill="none"/>
<path d="M1706.60,94.00 V134.60 M1703.20,94.00 H1710.00 M1703.20,134.60 H1710.00" stroke="#000" stroke-width="1.5" fill="none"/>
<path d="M1800.00,223.40 V256.40 M1796.60,223.40 H1803.40 M1796.60,256.40 H1803.40" stroke="#000" stroke-width="1.5" fill="none"/>
<path d="M1830.60,147.60 V180.00 M1827.20,147.60 H1834.00 M1827.20,180.00 H1834.00" stroke="#000" stroke-width="1.5" fill="none"/>
<path d="M1924.00,209.60 V243.40 M1920.60,209.60 H1927.40 M1920.60,243.40 H1927.40" stroke="#000" stroke-width="1.5" fill="none"/>
<path d="M1955.00,180.60 V228.40 M1951.60,180.60 H1958.40 M1951.60,228.40 H1958.40" stroke="#000" stroke-width="1.5" fill="none"/>
<circle cx="1672.60" cy="257.00" r="3.7" fill="url(#ballk)"/>
<circle cx="1668.60" cy="276.60" r="3.7" fill="url(#ballk)"/>
<circle cx="1676.40" cy="279.40" r="3.7" fill="url(#ballk)"/>
<circle cx="1713.40" cy="96.00" r="3.7" fill="url(#ballk)"/>
<circle cx="1705.60" cy="112.40" r="3.7" fill="url(#ballk)"/>
<circle cx="1709.40" cy="136.00" r="3.7" fill="url(#ballk)"/>
<circle cx="1791.60" cy="221.60" r="3.7" fill="url(#ballk)"/>
<circle cx="1799.00" cy="245.60" r="3.7" fill="url(#ballk)"/>
<circle cx="1795.40" cy="251.40" r="3.7" fill="url(#ballk)"/>
<circle cx="1828.60" cy="145.40" r="3.7" fill="url(#ballk)"/>
<circle cx="1836.00" cy="171.00" r="3.7" fill="url(#ballk)"/>
<circle cx="1832.00" cy="177.00" r="3.7" fill="url(#ballk)"/>
<circle cx="1914.60" cy="210.40" r="3.7" fill="url(#ballk)"/>
<circle cx="1922.20" cy="224.00" r="3.7" fill="url(#ballk)"/>
<circle cx="1918.60" cy="243.60" r="3.7" fill="url(#ballk)"/>
<circle cx="1951.60" cy="177.40" r="3.7" fill="url(#ballk)"/>
<circle cx="1959.00" cy="214.60" r="3.7" fill="url(#ballk)"/>
<circle cx="1955.40" cy="221.60" r="3.7" fill="url(#ballk)"/>
<rect x="1629.4" y="38.6" width="371.5999999999999" height="318.79999999999995" fill="none" stroke="#000" stroke-width="2.2"/>
<text x="1622.60" y="366.00" font-size="27.4" fill="#000" text-anchor="end" textLength="14.17" lengthAdjust="spacingAndGlyphs">0</text>
<path d="M1629.4,301.92 h6.4" stroke="#000" stroke-width="2"/>
<text x="1622.60" y="310.52" font-size="27.4" fill="#000" text-anchor="end" textLength="28.34" lengthAdjust="spacingAndGlyphs">40</text>
<path d="M1629.4,246.44 h6.4" stroke="#000" stroke-width="2"/>
<text x="1622.60" y="255.04" font-size="27.4" fill="#000" text-anchor="end" textLength="28.34" lengthAdjust="spacingAndGlyphs">80</text>
<path d="M1629.4,190.96 h6.4" stroke="#000" stroke-width="2"/>
<text x="1622.60" y="199.56" font-size="27.4" fill="#000" text-anchor="end" textLength="42.52" lengthAdjust="spacingAndGlyphs">120</text>
<path d="M1629.4,135.48 h6.4" stroke="#000" stroke-width="2"/>
<text x="1622.60" y="144.08" font-size="27.4" fill="#000" text-anchor="end" textLength="42.52" lengthAdjust="spacingAndGlyphs">160</text>
<path d="M1629.4,80.00 h6.4" stroke="#000" stroke-width="2"/>
<text x="1622.60" y="88.60" font-size="27.4" fill="#000" text-anchor="end" textLength="42.52" lengthAdjust="spacingAndGlyphs">200</text>
<rect x="1653.20" y="47.6" width="34.4" height="18" fill="#00CC00" stroke="#3a3a3a" stroke-width="0.9"/>
<text x="1693.00" y="61.80" font-size="23.6" fill="#00CC00" textLength="99.50" lengthAdjust="spacingAndGlyphs">Coniferol</text>
<rect x="1848.70" y="47.6" width="34.6" height="18" fill="#66D3FF" stroke="#3a3a3a" stroke-width="0.9"/>
<text x="1890.00" y="61.80" font-size="23.6" fill="#29BFFF" textLength="88.50" lengthAdjust="spacingAndGlyphs">Caffeate</text>
<text x="1589.80" y="382.40" font-size="20.5" fill="#000" textLength="48.00" lengthAdjust="spacingAndGlyphs">IIRs :</text>
<text x="1695.40" y="382.40" font-size="20.5" fill="#000" text-anchor="middle" textLength="39.50" lengthAdjust="spacingAndGlyphs">80%</text>
<text x="1820.40" y="382.40" font-size="20.5" fill="#000" text-anchor="middle" textLength="39.50" lengthAdjust="spacingAndGlyphs">50%</text>
<text x="1944.40" y="382.40" font-size="20.5" fill="#000" text-anchor="middle" textLength="39.50" lengthAdjust="spacingAndGlyphs">20%</text>
<text x="1572.90" y="198.50" font-size="25" fill="#000" text-anchor="middle" transform="rotate(-90 1572.90 198.50)" textLength="146.00" lengthAdjust="spacingAndGlyphs">Titer (mg/L)</text>
<rect x="1659.60" y="544.60" width="31.00" height="218.90" fill="#00CC00" stroke="#3a3a3a" stroke-width="0.9"/>
<rect x="1690.60" y="743.40" width="31.00" height="20.10" fill="#66D3FF" stroke="#3a3a3a" stroke-width="0.9"/>
<rect x="1783.60" y="503.40" width="31.00" height="260.10" fill="#00CC00" stroke="#3a3a3a" stroke-width="0.9"/>
<rect x="1814.60" y="758.40" width="31.00" height="5.10" fill="#66D3FF" stroke="#3a3a3a" stroke-width="0.9"/>
<rect x="1907.60" y="515.60" width="31.00" height="247.90" fill="#00CC00" stroke="#3a3a3a" stroke-width="0.9"/>
<rect x="1938.60" y="760.00" width="31.00" height="3.50" fill="#66D3FF" stroke="#3a3a3a" stroke-width="0.9"/>
<path d="M1675.40,521.40 V568.00 M1672.00,521.40 H1678.80 M1672.00,568.00 H1678.80" stroke="#000" stroke-width="1.5" fill="none"/>
<path d="M1799.00,482.40 V528.00 M1795.60,482.40 H1802.40 M1795.60,528.00 H1802.40" stroke="#000" stroke-width="1.5" fill="none"/>
<path d="M1923.00,487.60 V544.40 M1919.60,487.60 H1926.40 M1919.60,544.40 H1926.40" stroke="#000" stroke-width="1.5" fill="none"/>
<circle cx="1670.40" cy="518.00" r="3.7" fill="url(#ballk)"/>
<circle cx="1677.40" cy="552.40" r="3.7" fill="url(#ballk)"/>
<circle cx="1673.60" cy="562.40" r="3.7" fill="url(#ballk)"/>
<circle cx="1792.60" cy="490.60" r="3.7" fill="url(#ballk)"/>
<circle cx="1796.60" cy="490.60" r="3.7" fill="url(#ballk)"/>
<circle cx="1800.40" cy="527.40" r="3.7" fill="url(#ballk)"/>
<circle cx="1916.00" cy="484.00" r="3.7" fill="url(#ballk)"/>
<circle cx="1923.40" cy="524.00" r="3.7" fill="url(#ballk)"/>
<circle cx="1919.60" cy="538.40" r="3.7" fill="url(#ballk)"/>
<circle cx="1705.00" cy="741.00" r="3.7" fill="url(#ballk)"/>
<circle cx="1709.00" cy="743.60" r="3.7" fill="url(#ballk)"/>
<circle cx="1712.60" cy="742.40" r="3.7" fill="url(#ballk)"/>
<circle cx="1828.00" cy="758.00" r="3.7" fill="url(#ballk)"/>
<circle cx="1831.60" cy="756.00" r="3.7" fill="url(#ballk)"/>
<circle cx="1835.40" cy="758.60" r="3.7" fill="url(#ballk)"/>
<circle cx="1951.40" cy="758.60" r="3.7" fill="url(#ballk)"/>
<circle cx="1954.60" cy="758.00" r="3.7" fill="url(#ballk)"/>
<circle cx="1958.20" cy="759.40" r="3.7" fill="url(#ballk)"/>
<rect x="1628.2" y="441.3" width="372.79999999999995" height="322.2" fill="none" stroke="#000" stroke-width="2.2"/>
<text x="1621.40" y="772.10" font-size="27.4" fill="#000" text-anchor="end" textLength="14.17" lengthAdjust="spacingAndGlyphs">0</text>
<path d="M1628.2,723.23 h6.4" stroke="#000" stroke-width="2"/>
<text x="1621.40" y="731.83" font-size="27.4" fill="#000" text-anchor="end" textLength="28.34" lengthAdjust="spacingAndGlyphs">40</text>
<path d="M1628.2,682.96 h6.4" stroke="#000" stroke-width="2"/>
<text x="1621.40" y="691.56" font-size="27.4" fill="#000" text-anchor="end" textLength="28.34" lengthAdjust="spacingAndGlyphs">80</text>
<path d="M1628.2,642.69 h6.4" stroke="#000" stroke-width="2"/>
<text x="1621.40" y="651.29" font-size="27.4" fill="#000" text-anchor="end" textLength="42.52" lengthAdjust="spacingAndGlyphs">120</text>
<path d="M1628.2,602.42 h6.4" stroke="#000" stroke-width="2"/>
<text x="1621.40" y="611.02" font-size="27.4" fill="#000" text-anchor="end" textLength="42.52" lengthAdjust="spacingAndGlyphs">160</text>
<path d="M1628.2,562.15 h6.4" stroke="#000" stroke-width="2"/>
<text x="1621.40" y="570.75" font-size="27.4" fill="#000" text-anchor="end" textLength="42.52" lengthAdjust="spacingAndGlyphs">200</text>
<path d="M1628.2,521.88 h6.4" stroke="#000" stroke-width="2"/>
<text x="1621.40" y="530.48" font-size="27.4" fill="#000" text-anchor="end" textLength="42.52" lengthAdjust="spacingAndGlyphs">240</text>
<path d="M1628.2,481.61 h6.4" stroke="#000" stroke-width="2"/>
<text x="1621.40" y="490.21" font-size="27.4" fill="#000" text-anchor="end" textLength="42.52" lengthAdjust="spacingAndGlyphs">280</text>
<text x="1621.40" y="449.94" font-size="27.4" fill="#000" text-anchor="end" textLength="42.52" lengthAdjust="spacingAndGlyphs">320</text>
<rect x="1652.00" y="449.6" width="34.4" height="18" fill="#00CC00" stroke="#3a3a3a" stroke-width="0.9"/>
<text x="1691.80" y="463.80" font-size="23.6" fill="#00CC00" textLength="99.50" lengthAdjust="spacingAndGlyphs">Coniferol</text>
<rect x="1847.50" y="449.6" width="34.6" height="18" fill="#66D3FF" stroke="#3a3a3a" stroke-width="0.9"/>
<text x="1888.80" y="463.80" font-size="23.6" fill="#29BFFF" textLength="88.50" lengthAdjust="spacingAndGlyphs">Caffeate</text>
<text x="1588.60" y="788.60" font-size="20.5" fill="#000" textLength="48.00" lengthAdjust="spacingAndGlyphs">IIRs :</text>
<text x="1694.20" y="788.60" font-size="20.5" fill="#000" text-anchor="middle" textLength="39.50" lengthAdjust="spacingAndGlyphs">80%</text>
<text x="1819.20" y="788.60" font-size="20.5" fill="#000" text-anchor="middle" textLength="39.50" lengthAdjust="spacingAndGlyphs">50%</text>
<text x="1943.20" y="788.60" font-size="20.5" fill="#000" text-anchor="middle" textLength="39.50" lengthAdjust="spacingAndGlyphs">20%</text>
<text x="1571.70" y="602.50" font-size="25" fill="#000" text-anchor="middle" transform="rotate(-90 1571.70 602.50)" textLength="146.00" lengthAdjust="spacingAndGlyphs">Titer (mg/L)</text>
</svg>
</body></html>
